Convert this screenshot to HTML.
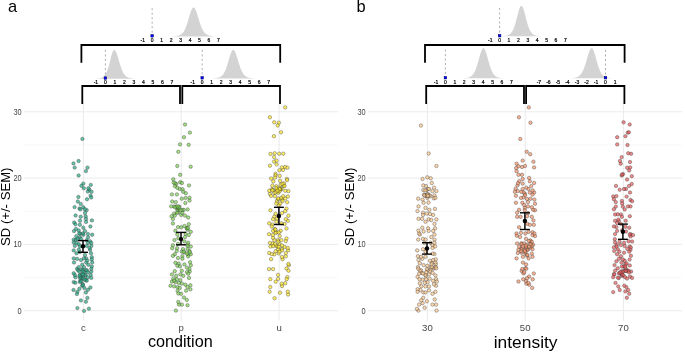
<!DOCTYPE html>
<html><head><meta charset="utf-8"><style>
html,body{margin:0;padding:0;background:#fff;}
svg{display:block;font-family:"Liberation Sans", sans-serif;will-change:transform;}
</style></head><body>
<svg width="685" height="352" viewBox="0 0 685 352">
<rect width="685" height="352" fill="#fff"/>
<line x1="24.0" x2="338.0" y1="277.55" y2="277.55" stroke="#f2f2f2" stroke-width="0.55"/>
<line x1="24.0" x2="338.0" y1="211.25" y2="211.25" stroke="#f2f2f2" stroke-width="0.55"/>
<line x1="24.0" x2="338.0" y1="144.95" y2="144.95" stroke="#f2f2f2" stroke-width="0.55"/>
<line x1="24.0" x2="338.0" y1="310.70" y2="310.70" stroke="#ebebeb" stroke-width="1.0"/>
<line x1="24.0" x2="338.0" y1="244.40" y2="244.40" stroke="#ebebeb" stroke-width="1.0"/>
<line x1="24.0" x2="338.0" y1="178.10" y2="178.10" stroke="#ebebeb" stroke-width="1.0"/>
<line x1="24.0" x2="338.0" y1="111.80" y2="111.80" stroke="#ebebeb" stroke-width="1.0"/>
<line x1="83.40" x2="83.40" y1="103" y2="320.7" stroke="#ebebeb" stroke-width="1.07"/>
<line x1="181.25" x2="181.25" y1="103" y2="320.7" stroke="#ebebeb" stroke-width="1.07"/>
<line x1="279.10" x2="279.10" y1="103" y2="320.7" stroke="#ebebeb" stroke-width="1.07"/>
<text transform="translate(21.70,313.65) scale(1,1.1)" text-anchor="end" font-size="7.4" fill="#444">0</text>
<text transform="translate(21.70,247.35) scale(1,1.1)" text-anchor="end" font-size="7.4" fill="#444">10</text>
<text transform="translate(21.70,181.05) scale(1,1.1)" text-anchor="end" font-size="7.4" fill="#444">20</text>
<text transform="translate(21.70,114.75) scale(1,1.1)" text-anchor="end" font-size="7.4" fill="#444">30</text>
<text x="83.40" y="330.8" text-anchor="middle" font-size="9.6" fill="#474747">c</text>
<text x="181.25" y="330.8" text-anchor="middle" font-size="9.6" fill="#474747">p</text>
<text x="279.10" y="330.8" text-anchor="middle" font-size="9.6" fill="#474747">u</text>
<text x="180.30" y="346.70" text-anchor="middle" font-size="16.2" fill="#000">condition</text>
<text transform="translate(9.70,206.75) rotate(-90)" text-anchor="middle" font-size="13.15" fill="#000">SD (+/- SEM)</text>
<text x="7.90" y="11.6" font-size="16.4" fill="#000">a</text>
<line x1="368.0" x2="682.0" y1="277.55" y2="277.55" stroke="#f2f2f2" stroke-width="0.55"/>
<line x1="368.0" x2="682.0" y1="211.25" y2="211.25" stroke="#f2f2f2" stroke-width="0.55"/>
<line x1="368.0" x2="682.0" y1="144.95" y2="144.95" stroke="#f2f2f2" stroke-width="0.55"/>
<line x1="368.0" x2="682.0" y1="310.70" y2="310.70" stroke="#ebebeb" stroke-width="1.0"/>
<line x1="368.0" x2="682.0" y1="244.40" y2="244.40" stroke="#ebebeb" stroke-width="1.0"/>
<line x1="368.0" x2="682.0" y1="178.10" y2="178.10" stroke="#ebebeb" stroke-width="1.0"/>
<line x1="368.0" x2="682.0" y1="111.80" y2="111.80" stroke="#ebebeb" stroke-width="1.0"/>
<line x1="427.40" x2="427.40" y1="103" y2="320.7" stroke="#ebebeb" stroke-width="1.07"/>
<line x1="525.20" x2="525.20" y1="103" y2="320.7" stroke="#ebebeb" stroke-width="1.07"/>
<line x1="623.40" x2="623.40" y1="103" y2="320.7" stroke="#ebebeb" stroke-width="1.07"/>
<text transform="translate(365.70,313.65) scale(1,1.1)" text-anchor="end" font-size="7.4" fill="#444">0</text>
<text transform="translate(365.70,247.35) scale(1,1.1)" text-anchor="end" font-size="7.4" fill="#444">10</text>
<text transform="translate(365.70,181.05) scale(1,1.1)" text-anchor="end" font-size="7.4" fill="#444">20</text>
<text transform="translate(365.70,114.75) scale(1,1.1)" text-anchor="end" font-size="7.4" fill="#444">30</text>
<text x="427.40" y="330.8" text-anchor="middle" font-size="9.6" fill="#474747">30</text>
<text x="525.20" y="330.8" text-anchor="middle" font-size="9.6" fill="#474747">50</text>
<text x="623.40" y="330.8" text-anchor="middle" font-size="9.6" fill="#474747">70</text>
<text x="525.65" y="347.60" text-anchor="middle" font-size="17.4" fill="#000">intensity</text>
<text transform="translate(353.70,206.75) rotate(-90)" text-anchor="middle" font-size="13.15" fill="#000">SD (+/- SEM)</text>
<text x="356.60" y="11.6" font-size="16.4" fill="#000">b</text>
<g fill="#22a884" fill-opacity="0.7" stroke="#333" stroke-opacity="0.75" stroke-width="0.5">
<circle cx="82.1" cy="277.9" r="1.72"/>
<circle cx="91.8" cy="257.2" r="1.72"/>
<circle cx="90.7" cy="275.0" r="1.72"/>
<circle cx="80.0" cy="220.7" r="1.72"/>
<circle cx="80.7" cy="216.7" r="1.72"/>
<circle cx="74.0" cy="262.5" r="1.72"/>
<circle cx="82.8" cy="284.1" r="1.72"/>
<circle cx="87.8" cy="191.5" r="1.72"/>
<circle cx="74.7" cy="167.6" r="1.72"/>
<circle cx="91.9" cy="220.4" r="1.72"/>
<circle cx="92.2" cy="234.7" r="1.72"/>
<circle cx="87.4" cy="297.9" r="1.72"/>
<circle cx="85.6" cy="275.6" r="1.72"/>
<circle cx="85.8" cy="280.1" r="1.72"/>
<circle cx="78.6" cy="175.5" r="1.72"/>
<circle cx="83.3" cy="207.2" r="1.72"/>
<circle cx="86.7" cy="240.2" r="1.72"/>
<circle cx="89.3" cy="189.6" r="1.72"/>
<circle cx="85.7" cy="216.4" r="1.72"/>
<circle cx="79.9" cy="275.0" r="1.72"/>
<circle cx="78.6" cy="161.0" r="1.72"/>
<circle cx="80.7" cy="203.9" r="1.72"/>
<circle cx="74.8" cy="245.9" r="1.72"/>
<circle cx="87.9" cy="277.5" r="1.72"/>
<circle cx="91.8" cy="259.5" r="1.72"/>
<circle cx="87.5" cy="167.6" r="1.72"/>
<circle cx="91.3" cy="277.9" r="1.72"/>
<circle cx="77.1" cy="268.8" r="1.72"/>
<circle cx="80.5" cy="280.7" r="1.72"/>
<circle cx="76.5" cy="253.3" r="1.72"/>
<circle cx="90.1" cy="241.3" r="1.72"/>
<circle cx="79.9" cy="281.9" r="1.72"/>
<circle cx="78.8" cy="230.5" r="1.72"/>
<circle cx="88.4" cy="264.8" r="1.72"/>
<circle cx="78.4" cy="197.0" r="1.72"/>
<circle cx="90.1" cy="249.8" r="1.72"/>
<circle cx="83.4" cy="234.8" r="1.72"/>
<circle cx="79.9" cy="224.8" r="1.72"/>
<circle cx="85.9" cy="292.5" r="1.72"/>
<circle cx="82.4" cy="138.9" r="1.72"/>
<circle cx="74.0" cy="231.1" r="1.72"/>
<circle cx="88.9" cy="308.7" r="1.72"/>
<circle cx="73.7" cy="239.6" r="1.72"/>
<circle cx="81.6" cy="269.4" r="1.72"/>
<circle cx="83.3" cy="278.2" r="1.72"/>
<circle cx="75.4" cy="277.3" r="1.72"/>
<circle cx="92.2" cy="262.5" r="1.72"/>
<circle cx="81.1" cy="281.4" r="1.72"/>
<circle cx="74.8" cy="275.0" r="1.72"/>
<circle cx="79.5" cy="208.4" r="1.72"/>
<circle cx="80.3" cy="209.4" r="1.72"/>
<circle cx="81.0" cy="260.1" r="1.72"/>
<circle cx="85.1" cy="274.9" r="1.72"/>
<circle cx="82.2" cy="285.8" r="1.72"/>
<circle cx="79.9" cy="252.1" r="1.72"/>
<circle cx="78.0" cy="270.2" r="1.72"/>
<circle cx="78.8" cy="267.1" r="1.72"/>
<circle cx="73.7" cy="242.5" r="1.72"/>
<circle cx="87.0" cy="199.2" r="1.72"/>
<circle cx="74.2" cy="222.5" r="1.72"/>
<circle cx="86.7" cy="210.1" r="1.72"/>
<circle cx="75.6" cy="215.5" r="1.72"/>
<circle cx="91.3" cy="245.9" r="1.72"/>
<circle cx="85.9" cy="301.7" r="1.72"/>
<circle cx="91.0" cy="253.3" r="1.72"/>
<circle cx="73.7" cy="250.4" r="1.72"/>
<circle cx="88.1" cy="237.3" r="1.72"/>
<circle cx="86.1" cy="219.0" r="1.72"/>
<circle cx="80.6" cy="277.0" r="1.72"/>
<circle cx="82.9" cy="269.7" r="1.72"/>
<circle cx="85.1" cy="213.0" r="1.72"/>
<circle cx="83.9" cy="267.1" r="1.72"/>
<circle cx="83.9" cy="272.2" r="1.72"/>
<circle cx="91.5" cy="191.8" r="1.72"/>
<circle cx="73.7" cy="282.1" r="1.72"/>
<circle cx="82.8" cy="233.4" r="1.72"/>
<circle cx="87.9" cy="243.0" r="1.72"/>
<circle cx="73.5" cy="163.4" r="1.72"/>
<circle cx="86.7" cy="280.7" r="1.72"/>
<circle cx="79.9" cy="237.3" r="1.72"/>
<circle cx="77.4" cy="291.8" r="1.72"/>
<circle cx="76.9" cy="294.0" r="1.72"/>
<circle cx="82.2" cy="274.5" r="1.72"/>
<circle cx="86.2" cy="262.5" r="1.72"/>
<circle cx="83.3" cy="227.7" r="1.72"/>
<circle cx="83.3" cy="183.6" r="1.72"/>
<circle cx="86.2" cy="269.9" r="1.72"/>
<circle cx="79.9" cy="277.9" r="1.72"/>
<circle cx="91.3" cy="243.0" r="1.72"/>
<circle cx="86.1" cy="221.9" r="1.72"/>
<circle cx="88.4" cy="188.3" r="1.72"/>
<circle cx="81.4" cy="185.8" r="1.72"/>
<circle cx="78.8" cy="244.2" r="1.72"/>
<circle cx="77.1" cy="258.9" r="1.72"/>
<circle cx="87.9" cy="289.8" r="1.72"/>
<circle cx="79.5" cy="275.9" r="1.72"/>
<circle cx="85.0" cy="231.1" r="1.72"/>
<circle cx="91.8" cy="266.5" r="1.72"/>
<circle cx="80.1" cy="233.8" r="1.72"/>
<circle cx="75.9" cy="229.0" r="1.72"/>
<circle cx="80.9" cy="300.4" r="1.72"/>
<circle cx="85.0" cy="255.0" r="1.72"/>
<circle cx="73.7" cy="273.3" r="1.72"/>
<circle cx="73.5" cy="290.0" r="1.72"/>
<circle cx="82.2" cy="264.8" r="1.72"/>
<circle cx="85.9" cy="171.1" r="1.72"/>
<circle cx="90.4" cy="287.5" r="1.72"/>
<circle cx="87.0" cy="270.6" r="1.72"/>
<circle cx="77.8" cy="201.5" r="1.72"/>
<circle cx="82.9" cy="285.2" r="1.72"/>
<circle cx="91.3" cy="271.6" r="1.72"/>
<circle cx="74.6" cy="207.1" r="1.72"/>
<circle cx="81.0" cy="239.0" r="1.72"/>
<circle cx="89.6" cy="248.1" r="1.72"/>
<circle cx="82.8" cy="271.6" r="1.72"/>
<circle cx="90.8" cy="184.9" r="1.72"/>
<circle cx="86.2" cy="258.4" r="1.72"/>
<circle cx="75.4" cy="224.3" r="1.72"/>
<circle cx="76.5" cy="243.0" r="1.72"/>
<circle cx="79.3" cy="271.6" r="1.72"/>
<circle cx="79.3" cy="233.4" r="1.72"/>
<circle cx="75.4" cy="282.8" r="1.72"/>
<circle cx="84.1" cy="310.9" r="1.72"/>
<circle cx="78.8" cy="249.8" r="1.72"/>
<circle cx="90.4" cy="226.5" r="1.72"/>
<circle cx="73.7" cy="258.4" r="1.72"/>
<circle cx="83.8" cy="188.3" r="1.72"/>
<circle cx="79.9" cy="246.4" r="1.72"/>
<circle cx="87.9" cy="233.9" r="1.72"/>
<circle cx="86.7" cy="245.9" r="1.72"/>
<circle cx="83.9" cy="258.4" r="1.72"/>
<circle cx="91.3" cy="268.8" r="1.72"/>
<circle cx="79.4" cy="288.8" r="1.72"/>
<circle cx="84.4" cy="288.0" r="1.72"/>
<circle cx="87.3" cy="260.6" r="1.72"/>
<circle cx="84.5" cy="279.6" r="1.72"/>
<circle cx="76.0" cy="239.8" r="1.72"/>
<circle cx="77.4" cy="308.1" r="1.72"/>
<circle cx="77.6" cy="239.0" r="1.72"/>
<circle cx="90.6" cy="195.6" r="1.72"/>
<circle cx="91.2" cy="197.5" r="1.72"/>
<circle cx="83.0" cy="274.4" r="1.72"/>
<circle cx="84.8" cy="209.2" r="1.72"/>
<circle cx="87.9" cy="272.5" r="1.72"/>
<circle cx="76.3" cy="236.2" r="1.72"/>
</g>
<g fill="#7ad151" fill-opacity="0.7" stroke="#333" stroke-opacity="0.75" stroke-width="0.5">
<circle cx="181.8" cy="251.6" r="1.72"/>
<circle cx="187.7" cy="244.7" r="1.72"/>
<circle cx="190.8" cy="246.5" r="1.72"/>
<circle cx="189.7" cy="271.5" r="1.72"/>
<circle cx="190.7" cy="166.7" r="1.72"/>
<circle cx="177.3" cy="166.0" r="1.72"/>
<circle cx="182.4" cy="256.1" r="1.72"/>
<circle cx="174.1" cy="286.4" r="1.72"/>
<circle cx="181.1" cy="293.8" r="1.72"/>
<circle cx="190.8" cy="265.3" r="1.72"/>
<circle cx="172.2" cy="201.5" r="1.72"/>
<circle cx="181.2" cy="214.9" r="1.72"/>
<circle cx="187.6" cy="229.8" r="1.72"/>
<circle cx="189.0" cy="185.4" r="1.72"/>
<circle cx="190.4" cy="289.3" r="1.72"/>
<circle cx="187.5" cy="287.1" r="1.72"/>
<circle cx="183.3" cy="275.8" r="1.72"/>
<circle cx="183.7" cy="209.8" r="1.72"/>
<circle cx="172.9" cy="245.3" r="1.72"/>
<circle cx="183.1" cy="249.1" r="1.72"/>
<circle cx="174.1" cy="206.4" r="1.72"/>
<circle cx="187.6" cy="249.1" r="1.72"/>
<circle cx="178.0" cy="212.7" r="1.72"/>
<circle cx="170.5" cy="285.7" r="1.72"/>
<circle cx="188.7" cy="144.8" r="1.72"/>
<circle cx="179.9" cy="266.3" r="1.72"/>
<circle cx="171.2" cy="206.4" r="1.72"/>
<circle cx="176.2" cy="275.8" r="1.72"/>
<circle cx="177.1" cy="248.2" r="1.72"/>
<circle cx="178.3" cy="151.8" r="1.72"/>
<circle cx="177.6" cy="290.7" r="1.72"/>
<circle cx="179.0" cy="282.9" r="1.72"/>
<circle cx="177.6" cy="287.1" r="1.72"/>
<circle cx="174.1" cy="213.6" r="1.72"/>
<circle cx="182.4" cy="213.0" r="1.72"/>
<circle cx="173.3" cy="179.3" r="1.72"/>
<circle cx="172.9" cy="223.5" r="1.72"/>
<circle cx="187.5" cy="305.2" r="1.72"/>
<circle cx="175.4" cy="230.8" r="1.72"/>
<circle cx="185.4" cy="284.7" r="1.72"/>
<circle cx="186.1" cy="290.7" r="1.72"/>
<circle cx="181.8" cy="270.8" r="1.72"/>
<circle cx="171.9" cy="281.5" r="1.72"/>
<circle cx="184.4" cy="264.4" r="1.72"/>
<circle cx="189.5" cy="251.0" r="1.72"/>
<circle cx="180.2" cy="174.8" r="1.72"/>
<circle cx="178.6" cy="209.8" r="1.72"/>
<circle cx="177.3" cy="209.8" r="1.72"/>
<circle cx="177.3" cy="234.4" r="1.72"/>
<circle cx="180.4" cy="274.4" r="1.72"/>
<circle cx="187.6" cy="209.4" r="1.72"/>
<circle cx="188.8" cy="224.2" r="1.72"/>
<circle cx="177.3" cy="208.1" r="1.72"/>
<circle cx="176.3" cy="206.6" r="1.72"/>
<circle cx="176.7" cy="251.0" r="1.72"/>
<circle cx="188.1" cy="254.5" r="1.72"/>
<circle cx="172.2" cy="248.2" r="1.72"/>
<circle cx="186.9" cy="228.0" r="1.72"/>
<circle cx="178.0" cy="244.0" r="1.72"/>
<circle cx="184.4" cy="241.4" r="1.72"/>
<circle cx="186.9" cy="228.3" r="1.72"/>
<circle cx="180.2" cy="182.2" r="1.72"/>
<circle cx="188.2" cy="242.7" r="1.72"/>
<circle cx="190.1" cy="262.2" r="1.72"/>
<circle cx="179.7" cy="189.0" r="1.72"/>
<circle cx="175.5" cy="282.2" r="1.72"/>
<circle cx="189.9" cy="132.6" r="1.72"/>
<circle cx="184.0" cy="137.2" r="1.72"/>
<circle cx="174.8" cy="254.2" r="1.72"/>
<circle cx="184.4" cy="252.3" r="1.72"/>
<circle cx="186.9" cy="272.1" r="1.72"/>
<circle cx="180.4" cy="280.1" r="1.72"/>
<circle cx="182.6" cy="189.3" r="1.72"/>
<circle cx="178.6" cy="263.5" r="1.72"/>
<circle cx="183.3" cy="191.8" r="1.72"/>
<circle cx="186.8" cy="299.9" r="1.72"/>
<circle cx="177.3" cy="187.8" r="1.72"/>
<circle cx="171.9" cy="194.4" r="1.72"/>
<circle cx="185.8" cy="193.2" r="1.72"/>
<circle cx="179.0" cy="304.6" r="1.72"/>
<circle cx="175.1" cy="207.3" r="1.72"/>
<circle cx="185.0" cy="237.0" r="1.72"/>
<circle cx="181.2" cy="227.3" r="1.72"/>
<circle cx="176.2" cy="184.0" r="1.72"/>
<circle cx="182.1" cy="210.0" r="1.72"/>
<circle cx="188.2" cy="256.4" r="1.72"/>
<circle cx="190.8" cy="231.8" r="1.72"/>
<circle cx="176.9" cy="194.4" r="1.72"/>
<circle cx="171.9" cy="274.4" r="1.72"/>
<circle cx="176.9" cy="279.3" r="1.72"/>
<circle cx="188.1" cy="227.9" r="1.72"/>
<circle cx="174.8" cy="186.1" r="1.72"/>
<circle cx="175.1" cy="183.2" r="1.72"/>
<circle cx="181.9" cy="283.6" r="1.72"/>
<circle cx="178.0" cy="258.0" r="1.72"/>
<circle cx="190.4" cy="285.3" r="1.72"/>
<circle cx="182.4" cy="258.7" r="1.72"/>
<circle cx="184.0" cy="297.5" r="1.72"/>
<circle cx="185.0" cy="124.5" r="1.72"/>
<circle cx="190.8" cy="254.2" r="1.72"/>
<circle cx="172.9" cy="255.9" r="1.72"/>
<circle cx="183.7" cy="251.7" r="1.72"/>
<circle cx="189.5" cy="200.5" r="1.72"/>
<circle cx="174.8" cy="215.6" r="1.72"/>
<circle cx="189.5" cy="197.7" r="1.72"/>
<circle cx="178.3" cy="293.5" r="1.72"/>
<circle cx="185.3" cy="203.0" r="1.72"/>
<circle cx="181.9" cy="183.0" r="1.72"/>
<circle cx="175.8" cy="202.1" r="1.72"/>
<circle cx="173.6" cy="182.6" r="1.72"/>
<circle cx="172.9" cy="219.1" r="1.72"/>
<circle cx="179.7" cy="287.9" r="1.72"/>
<circle cx="189.5" cy="268.9" r="1.72"/>
<circle cx="173.3" cy="278.6" r="1.72"/>
<circle cx="174.2" cy="280.7" r="1.72"/>
<circle cx="185.0" cy="215.6" r="1.72"/>
<circle cx="186.9" cy="253.6" r="1.72"/>
<circle cx="177.3" cy="265.7" r="1.72"/>
<circle cx="185.6" cy="197.9" r="1.72"/>
<circle cx="179.3" cy="206.6" r="1.72"/>
<circle cx="174.5" cy="240.1" r="1.72"/>
<circle cx="180.5" cy="210.2" r="1.72"/>
<circle cx="188.2" cy="273.7" r="1.72"/>
<circle cx="178.3" cy="302.0" r="1.72"/>
<circle cx="180.0" cy="144.4" r="1.72"/>
<circle cx="177.0" cy="212.6" r="1.72"/>
<circle cx="188.2" cy="217.5" r="1.72"/>
<circle cx="181.9" cy="304.6" r="1.72"/>
<circle cx="184.4" cy="226.0" r="1.72"/>
<circle cx="188.8" cy="235.0" r="1.72"/>
<circle cx="189.0" cy="277.9" r="1.72"/>
<circle cx="178.4" cy="238.2" r="1.72"/>
<circle cx="178.0" cy="227.1" r="1.72"/>
<circle cx="178.9" cy="207.5" r="1.72"/>
<circle cx="175.4" cy="262.8" r="1.72"/>
<circle cx="175.9" cy="310.6" r="1.72"/>
<circle cx="177.7" cy="206.4" r="1.72"/>
<circle cx="185.6" cy="233.8" r="1.72"/>
<circle cx="186.9" cy="267.6" r="1.72"/>
<circle cx="171.6" cy="216.2" r="1.72"/>
<circle cx="174.8" cy="271.2" r="1.72"/>
<circle cx="189.8" cy="252.2" r="1.72"/>
<circle cx="187.6" cy="245.9" r="1.72"/>
<circle cx="181.8" cy="198.7" r="1.72"/>
</g>
<g fill="#fde725" fill-opacity="0.7" stroke="#333" stroke-opacity="0.75" stroke-width="0.5">
<circle cx="274.3" cy="240.1" r="1.72"/>
<circle cx="278.9" cy="122.7" r="1.72"/>
<circle cx="287.8" cy="220.8" r="1.72"/>
<circle cx="275.6" cy="173.8" r="1.72"/>
<circle cx="277.9" cy="240.0" r="1.72"/>
<circle cx="276.4" cy="232.3" r="1.72"/>
<circle cx="271.8" cy="189.1" r="1.72"/>
<circle cx="276.9" cy="201.0" r="1.72"/>
<circle cx="283.9" cy="186.0" r="1.72"/>
<circle cx="284.6" cy="247.0" r="1.72"/>
<circle cx="281.0" cy="189.5" r="1.72"/>
<circle cx="278.3" cy="199.3" r="1.72"/>
<circle cx="277.4" cy="246.7" r="1.72"/>
<circle cx="278.2" cy="192.7" r="1.72"/>
<circle cx="286.9" cy="178.9" r="1.72"/>
<circle cx="279.7" cy="235.9" r="1.72"/>
<circle cx="274.3" cy="192.9" r="1.72"/>
<circle cx="269.9" cy="194.0" r="1.72"/>
<circle cx="275.0" cy="229.1" r="1.72"/>
<circle cx="288.4" cy="191.1" r="1.72"/>
<circle cx="275.6" cy="251.2" r="1.72"/>
<circle cx="279.4" cy="243.9" r="1.72"/>
<circle cx="282.0" cy="286.0" r="1.72"/>
<circle cx="275.7" cy="281.7" r="1.72"/>
<circle cx="275.6" cy="213.8" r="1.72"/>
<circle cx="269.2" cy="190.8" r="1.72"/>
<circle cx="288.8" cy="265.3" r="1.72"/>
<circle cx="281.7" cy="283.7" r="1.72"/>
<circle cx="269.9" cy="242.9" r="1.72"/>
<circle cx="281.4" cy="188.5" r="1.72"/>
<circle cx="275.0" cy="196.2" r="1.72"/>
<circle cx="286.5" cy="208.6" r="1.72"/>
<circle cx="278.8" cy="205.2" r="1.72"/>
<circle cx="282.6" cy="259.2" r="1.72"/>
<circle cx="280.7" cy="184.6" r="1.72"/>
<circle cx="287.1" cy="180.1" r="1.72"/>
<circle cx="281.8" cy="199.5" r="1.72"/>
<circle cx="280.0" cy="189.0" r="1.72"/>
<circle cx="286.5" cy="228.5" r="1.72"/>
<circle cx="276.9" cy="218.5" r="1.72"/>
<circle cx="278.2" cy="198.4" r="1.72"/>
<circle cx="274.1" cy="161.6" r="1.72"/>
<circle cx="272.8" cy="243.5" r="1.72"/>
<circle cx="272.4" cy="224.6" r="1.72"/>
<circle cx="280.0" cy="188.9" r="1.72"/>
<circle cx="285.2" cy="107.4" r="1.72"/>
<circle cx="288.1" cy="294.5" r="1.72"/>
<circle cx="276.3" cy="221.8" r="1.72"/>
<circle cx="275.6" cy="232.9" r="1.72"/>
<circle cx="275.4" cy="175.4" r="1.72"/>
<circle cx="285.2" cy="167.0" r="1.72"/>
<circle cx="277.0" cy="189.5" r="1.72"/>
<circle cx="284.6" cy="224.0" r="1.72"/>
<circle cx="272.4" cy="185.6" r="1.72"/>
<circle cx="280.7" cy="230.8" r="1.72"/>
<circle cx="287.4" cy="167.7" r="1.72"/>
<circle cx="286.5" cy="268.5" r="1.72"/>
<circle cx="271.1" cy="195.9" r="1.72"/>
<circle cx="274.3" cy="216.7" r="1.72"/>
<circle cx="270.5" cy="210.3" r="1.72"/>
<circle cx="273.1" cy="190.1" r="1.72"/>
<circle cx="275.8" cy="192.3" r="1.72"/>
<circle cx="280.1" cy="203.5" r="1.72"/>
<circle cx="275.0" cy="177.6" r="1.72"/>
<circle cx="285.8" cy="241.0" r="1.72"/>
<circle cx="273.9" cy="136.2" r="1.72"/>
<circle cx="273.1" cy="230.8" r="1.72"/>
<circle cx="283.0" cy="169.9" r="1.72"/>
<circle cx="276.6" cy="164.4" r="1.72"/>
<circle cx="283.9" cy="183.3" r="1.72"/>
<circle cx="288.4" cy="215.7" r="1.72"/>
<circle cx="270.3" cy="279.2" r="1.72"/>
<circle cx="274.3" cy="254.4" r="1.72"/>
<circle cx="279.6" cy="191.3" r="1.72"/>
<circle cx="281.4" cy="197.8" r="1.72"/>
<circle cx="285.8" cy="219.2" r="1.72"/>
<circle cx="285.2" cy="190.8" r="1.72"/>
<circle cx="269.9" cy="117.3" r="1.72"/>
<circle cx="276.3" cy="203.5" r="1.72"/>
<circle cx="269.9" cy="165.7" r="1.72"/>
<circle cx="269.0" cy="234.2" r="1.72"/>
<circle cx="274.7" cy="153.3" r="1.72"/>
<circle cx="287.4" cy="277.1" r="1.72"/>
<circle cx="271.8" cy="226.5" r="1.72"/>
<circle cx="273.1" cy="269.1" r="1.72"/>
<circle cx="282.0" cy="249.0" r="1.72"/>
<circle cx="288.5" cy="270.7" r="1.72"/>
<circle cx="276.4" cy="186.3" r="1.72"/>
<circle cx="274.2" cy="122.3" r="1.72"/>
<circle cx="285.8" cy="253.1" r="1.72"/>
<circle cx="279.2" cy="153.7" r="1.72"/>
<circle cx="269.2" cy="252.9" r="1.72"/>
<circle cx="285.8" cy="256.3" r="1.72"/>
<circle cx="273.1" cy="237.8" r="1.72"/>
<circle cx="270.5" cy="153.9" r="1.72"/>
<circle cx="279.4" cy="188.2" r="1.72"/>
<circle cx="274.1" cy="157.1" r="1.72"/>
<circle cx="282.4" cy="184.0" r="1.72"/>
<circle cx="286.5" cy="238.4" r="1.72"/>
<circle cx="285.2" cy="211.2" r="1.72"/>
<circle cx="269.2" cy="223.3" r="1.72"/>
<circle cx="282.0" cy="213.1" r="1.72"/>
<circle cx="273.1" cy="219.2" r="1.72"/>
<circle cx="279.4" cy="170.3" r="1.72"/>
<circle cx="287.8" cy="196.5" r="1.72"/>
<circle cx="276.2" cy="245.7" r="1.72"/>
<circle cx="281.9" cy="250.5" r="1.72"/>
<circle cx="280.0" cy="292.7" r="1.72"/>
<circle cx="288.1" cy="250.3" r="1.72"/>
<circle cx="285.2" cy="198.4" r="1.72"/>
<circle cx="278.2" cy="249.3" r="1.72"/>
<circle cx="286.7" cy="279.2" r="1.72"/>
<circle cx="275.0" cy="244.2" r="1.72"/>
<circle cx="288.4" cy="264.0" r="1.72"/>
<circle cx="274.6" cy="298.3" r="1.72"/>
<circle cx="270.5" cy="246.5" r="1.72"/>
<circle cx="282.0" cy="257.0" r="1.72"/>
<circle cx="281.0" cy="132.3" r="1.72"/>
<circle cx="276.3" cy="188.2" r="1.72"/>
<circle cx="284.6" cy="185.9" r="1.72"/>
<circle cx="283.3" cy="153.7" r="1.72"/>
<circle cx="276.6" cy="160.6" r="1.72"/>
<circle cx="270.3" cy="287.0" r="1.72"/>
<circle cx="280.1" cy="180.8" r="1.72"/>
<circle cx="273.3" cy="246.1" r="1.72"/>
<circle cx="269.6" cy="291.7" r="1.72"/>
<circle cx="278.1" cy="278.9" r="1.72"/>
<circle cx="273.3" cy="181.4" r="1.72"/>
<circle cx="282.0" cy="167.4" r="1.72"/>
<circle cx="281.4" cy="223.3" r="1.72"/>
<circle cx="278.8" cy="232.4" r="1.72"/>
<circle cx="282.0" cy="245.4" r="1.72"/>
<circle cx="287.8" cy="291.7" r="1.72"/>
<circle cx="278.8" cy="253.4" r="1.72"/>
<circle cx="271.1" cy="259.2" r="1.72"/>
<circle cx="279.7" cy="189.2" r="1.72"/>
<circle cx="277.7" cy="125.5" r="1.72"/>
<circle cx="278.2" cy="241.6" r="1.72"/>
<circle cx="279.7" cy="175.9" r="1.72"/>
<circle cx="275.4" cy="229.5" r="1.72"/>
<circle cx="281.4" cy="240.1" r="1.72"/>
<circle cx="283.3" cy="196.2" r="1.72"/>
<circle cx="279.4" cy="251.6" r="1.72"/>
<circle cx="272.8" cy="235.0" r="1.72"/>
<circle cx="287.8" cy="248.0" r="1.72"/>
<circle cx="285.2" cy="283.2" r="1.72"/>
<circle cx="271.8" cy="254.1" r="1.72"/>
<circle cx="272.3" cy="190.4" r="1.72"/>
<circle cx="287.1" cy="202.3" r="1.72"/>
<circle cx="277.5" cy="190.8" r="1.72"/>
<circle cx="278.1" cy="274.9" r="1.72"/>
<circle cx="278.8" cy="246.7" r="1.72"/>
<circle cx="271.1" cy="178.5" r="1.72"/>
<circle cx="282.6" cy="201.0" r="1.72"/>
<circle cx="269.0" cy="269.1" r="1.72"/>
</g>
<g fill="#fcc88c" fill-opacity="0.7" stroke="#333" stroke-opacity="0.75" stroke-width="0.5">
<circle cx="425.1" cy="195.3" r="1.72"/>
<circle cx="420.5" cy="290.0" r="1.72"/>
<circle cx="429.0" cy="286.4" r="1.72"/>
<circle cx="425.8" cy="276.1" r="1.72"/>
<circle cx="428.7" cy="219.4" r="1.72"/>
<circle cx="434.5" cy="195.4" r="1.72"/>
<circle cx="436.4" cy="166.0" r="1.72"/>
<circle cx="422.6" cy="199.6" r="1.72"/>
<circle cx="430.6" cy="269.6" r="1.72"/>
<circle cx="428.1" cy="228.3" r="1.72"/>
<circle cx="429.0" cy="274.4" r="1.72"/>
<circle cx="431.8" cy="183.0" r="1.72"/>
<circle cx="422.1" cy="218.8" r="1.72"/>
<circle cx="417.9" cy="256.2" r="1.72"/>
<circle cx="418.2" cy="239.6" r="1.72"/>
<circle cx="434.5" cy="234.5" r="1.72"/>
<circle cx="423.0" cy="238.9" r="1.72"/>
<circle cx="422.6" cy="179.0" r="1.72"/>
<circle cx="427.5" cy="270.1" r="1.72"/>
<circle cx="428.7" cy="230.9" r="1.72"/>
<circle cx="417.6" cy="289.3" r="1.72"/>
<circle cx="421.9" cy="273.0" r="1.72"/>
<circle cx="435.1" cy="228.3" r="1.72"/>
<circle cx="434.5" cy="223.9" r="1.72"/>
<circle cx="425.5" cy="256.8" r="1.72"/>
<circle cx="418.5" cy="260.0" r="1.72"/>
<circle cx="426.6" cy="190.2" r="1.72"/>
<circle cx="417.6" cy="291.8" r="1.72"/>
<circle cx="427.6" cy="282.2" r="1.72"/>
<circle cx="422.3" cy="227.7" r="1.72"/>
<circle cx="433.6" cy="268.5" r="1.72"/>
<circle cx="425.4" cy="274.8" r="1.72"/>
<circle cx="425.5" cy="221.7" r="1.72"/>
<circle cx="434.9" cy="208.9" r="1.72"/>
<circle cx="436.4" cy="191.1" r="1.72"/>
<circle cx="431.3" cy="220.0" r="1.72"/>
<circle cx="434.5" cy="267.7" r="1.72"/>
<circle cx="433.2" cy="230.9" r="1.72"/>
<circle cx="419.8" cy="234.5" r="1.72"/>
<circle cx="426.8" cy="269.0" r="1.72"/>
<circle cx="423.3" cy="292.4" r="1.72"/>
<circle cx="427.4" cy="197.9" r="1.72"/>
<circle cx="428.0" cy="193.9" r="1.72"/>
<circle cx="436.1" cy="279.3" r="1.72"/>
<circle cx="417.6" cy="276.8" r="1.72"/>
<circle cx="433.2" cy="260.0" r="1.72"/>
<circle cx="434.5" cy="254.0" r="1.72"/>
<circle cx="431.3" cy="237.0" r="1.72"/>
<circle cx="423.6" cy="231.5" r="1.72"/>
<circle cx="432.5" cy="191.1" r="1.72"/>
<circle cx="433.8" cy="198.3" r="1.72"/>
<circle cx="435.8" cy="264.2" r="1.72"/>
<circle cx="418.5" cy="206.4" r="1.72"/>
<circle cx="435.4" cy="275.4" r="1.72"/>
<circle cx="419.1" cy="233.5" r="1.72"/>
<circle cx="419.1" cy="304.6" r="1.72"/>
<circle cx="432.5" cy="293.8" r="1.72"/>
<circle cx="430.6" cy="267.1" r="1.72"/>
<circle cx="423.0" cy="273.5" r="1.72"/>
<circle cx="433.2" cy="280.8" r="1.72"/>
<circle cx="417.2" cy="250.4" r="1.72"/>
<circle cx="418.3" cy="310.6" r="1.72"/>
<circle cx="430.6" cy="196.1" r="1.72"/>
<circle cx="421.1" cy="270.3" r="1.72"/>
<circle cx="424.0" cy="194.6" r="1.72"/>
<circle cx="432.6" cy="253.6" r="1.72"/>
<circle cx="436.1" cy="304.6" r="1.72"/>
<circle cx="434.5" cy="239.6" r="1.72"/>
<circle cx="429.7" cy="278.6" r="1.72"/>
<circle cx="423.0" cy="249.2" r="1.72"/>
<circle cx="429.4" cy="195.4" r="1.72"/>
<circle cx="422.3" cy="258.8" r="1.72"/>
<circle cx="428.5" cy="202.5" r="1.72"/>
<circle cx="425.1" cy="195.6" r="1.72"/>
<circle cx="436.5" cy="310.6" r="1.72"/>
<circle cx="431.9" cy="267.1" r="1.72"/>
<circle cx="430.4" cy="271.5" r="1.72"/>
<circle cx="436.1" cy="285.7" r="1.72"/>
<circle cx="428.7" cy="153.5" r="1.72"/>
<circle cx="424.3" cy="195.4" r="1.72"/>
<circle cx="427.4" cy="196.3" r="1.72"/>
<circle cx="419.8" cy="263.2" r="1.72"/>
<circle cx="435.4" cy="262.4" r="1.72"/>
<circle cx="424.7" cy="282.9" r="1.72"/>
<circle cx="436.4" cy="219.4" r="1.72"/>
<circle cx="427.4" cy="194.5" r="1.72"/>
<circle cx="430.0" cy="260.7" r="1.72"/>
<circle cx="426.1" cy="279.3" r="1.72"/>
<circle cx="435.4" cy="197.9" r="1.72"/>
<circle cx="417.9" cy="267.1" r="1.72"/>
<circle cx="431.9" cy="263.2" r="1.72"/>
<circle cx="435.8" cy="259.4" r="1.72"/>
<circle cx="430.7" cy="178.3" r="1.72"/>
<circle cx="433.2" cy="214.9" r="1.72"/>
<circle cx="435.8" cy="267.1" r="1.72"/>
<circle cx="430.6" cy="242.8" r="1.72"/>
<circle cx="436.8" cy="281.5" r="1.72"/>
<circle cx="418.5" cy="230.6" r="1.72"/>
<circle cx="432.6" cy="245.3" r="1.72"/>
<circle cx="434.7" cy="299.5" r="1.72"/>
<circle cx="423.6" cy="265.1" r="1.72"/>
<circle cx="434.0" cy="284.3" r="1.72"/>
<circle cx="425.5" cy="207.9" r="1.72"/>
<circle cx="419.7" cy="270.5" r="1.72"/>
<circle cx="424.7" cy="307.7" r="1.72"/>
<circle cx="432.6" cy="272.8" r="1.72"/>
<circle cx="429.4" cy="209.8" r="1.72"/>
<circle cx="423.0" cy="212.7" r="1.72"/>
<circle cx="434.0" cy="187.6" r="1.72"/>
<circle cx="422.6" cy="279.6" r="1.72"/>
<circle cx="417.5" cy="211.1" r="1.72"/>
<circle cx="424.3" cy="242.8" r="1.72"/>
<circle cx="418.3" cy="268.7" r="1.72"/>
<circle cx="425.4" cy="292.4" r="1.72"/>
<circle cx="435.4" cy="291.8" r="1.72"/>
<circle cx="426.9" cy="301.3" r="1.72"/>
<circle cx="427.4" cy="265.8" r="1.72"/>
<circle cx="427.0" cy="195.5" r="1.72"/>
<circle cx="432.6" cy="247.9" r="1.72"/>
<circle cx="421.2" cy="286.2" r="1.72"/>
<circle cx="435.1" cy="246.4" r="1.72"/>
<circle cx="429.0" cy="290.4" r="1.72"/>
<circle cx="436.1" cy="268.3" r="1.72"/>
<circle cx="425.9" cy="186.1" r="1.72"/>
<circle cx="419.5" cy="279.3" r="1.72"/>
<circle cx="428.1" cy="195.9" r="1.72"/>
<circle cx="420.9" cy="125.5" r="1.72"/>
<circle cx="425.5" cy="251.7" r="1.72"/>
<circle cx="423.3" cy="297.8" r="1.72"/>
<circle cx="434.5" cy="242.8" r="1.72"/>
<circle cx="431.5" cy="264.3" r="1.72"/>
<circle cx="428.0" cy="189.0" r="1.72"/>
<circle cx="425.4" cy="286.4" r="1.72"/>
<circle cx="419.1" cy="273.7" r="1.72"/>
<circle cx="423.6" cy="202.8" r="1.72"/>
<circle cx="426.2" cy="272.2" r="1.72"/>
<circle cx="426.8" cy="213.6" r="1.72"/>
<circle cx="423.3" cy="190.1" r="1.72"/>
<circle cx="423.3" cy="185.4" r="1.72"/>
<circle cx="418.2" cy="198.7" r="1.72"/>
<circle cx="425.5" cy="239.6" r="1.72"/>
<circle cx="427.3" cy="177.3" r="1.72"/>
<circle cx="429.1" cy="189.0" r="1.72"/>
<circle cx="416.9" cy="308.9" r="1.72"/>
<circle cx="430.0" cy="214.0" r="1.72"/>
<circle cx="422.6" cy="303.2" r="1.72"/>
<circle cx="419.8" cy="283.3" r="1.72"/>
<circle cx="432.5" cy="304.6" r="1.72"/>
<circle cx="425.2" cy="190.4" r="1.72"/>
<circle cx="423.0" cy="214.9" r="1.72"/>
<circle cx="421.1" cy="256.8" r="1.72"/>
<circle cx="418.5" cy="218.8" r="1.72"/>
<circle cx="421.2" cy="300.3" r="1.72"/>
</g>
<g fill="#f7946a" fill-opacity="0.7" stroke="#333" stroke-opacity="0.75" stroke-width="0.5">
<circle cx="532.2" cy="287.9" r="1.72"/>
<circle cx="522.0" cy="167.0" r="1.72"/>
<circle cx="521.5" cy="247.8" r="1.72"/>
<circle cx="525.4" cy="253.6" r="1.72"/>
<circle cx="518.9" cy="117.3" r="1.72"/>
<circle cx="522.9" cy="262.6" r="1.72"/>
<circle cx="530.5" cy="243.0" r="1.72"/>
<circle cx="517.1" cy="243.4" r="1.72"/>
<circle cx="530.4" cy="240.4" r="1.72"/>
<circle cx="528.0" cy="249.8" r="1.72"/>
<circle cx="521.6" cy="249.2" r="1.72"/>
<circle cx="534.1" cy="192.5" r="1.72"/>
<circle cx="526.0" cy="248.1" r="1.72"/>
<circle cx="527.2" cy="255.7" r="1.72"/>
<circle cx="528.0" cy="213.0" r="1.72"/>
<circle cx="517.8" cy="253.0" r="1.72"/>
<circle cx="516.1" cy="168.0" r="1.72"/>
<circle cx="523.5" cy="197.4" r="1.72"/>
<circle cx="522.7" cy="179.0" r="1.72"/>
<circle cx="517.1" cy="216.8" r="1.72"/>
<circle cx="526.0" cy="281.0" r="1.72"/>
<circle cx="521.6" cy="270.9" r="1.72"/>
<circle cx="534.1" cy="183.0" r="1.72"/>
<circle cx="520.3" cy="139.0" r="1.72"/>
<circle cx="529.1" cy="276.5" r="1.72"/>
<circle cx="527.4" cy="254.9" r="1.72"/>
<circle cx="534.1" cy="167.4" r="1.72"/>
<circle cx="535.0" cy="210.2" r="1.72"/>
<circle cx="531.8" cy="241.8" r="1.72"/>
<circle cx="521.4" cy="243.3" r="1.72"/>
<circle cx="518.5" cy="281.5" r="1.72"/>
<circle cx="530.7" cy="247.7" r="1.72"/>
<circle cx="519.2" cy="181.2" r="1.72"/>
<circle cx="527.0" cy="249.7" r="1.72"/>
<circle cx="520.6" cy="216.8" r="1.72"/>
<circle cx="516.6" cy="163.7" r="1.72"/>
<circle cx="519.1" cy="209.8" r="1.72"/>
<circle cx="531.8" cy="216.8" r="1.72"/>
<circle cx="529.0" cy="240.9" r="1.72"/>
<circle cx="530.2" cy="154.2" r="1.72"/>
<circle cx="521.0" cy="232.8" r="1.72"/>
<circle cx="535.0" cy="236.1" r="1.72"/>
<circle cx="529.1" cy="284.7" r="1.72"/>
<circle cx="534.4" cy="199.6" r="1.72"/>
<circle cx="532.7" cy="279.3" r="1.72"/>
<circle cx="516.6" cy="171.2" r="1.72"/>
<circle cx="522.7" cy="160.6" r="1.72"/>
<circle cx="526.3" cy="283.6" r="1.72"/>
<circle cx="533.8" cy="273.5" r="1.72"/>
<circle cx="528.4" cy="189.0" r="1.72"/>
<circle cx="524.8" cy="249.8" r="1.72"/>
<circle cx="518.4" cy="249.8" r="1.72"/>
<circle cx="526.7" cy="151.8" r="1.72"/>
<circle cx="528.8" cy="107.4" r="1.72"/>
<circle cx="516.5" cy="258.4" r="1.72"/>
<circle cx="515.9" cy="195.8" r="1.72"/>
<circle cx="532.5" cy="249.2" r="1.72"/>
<circle cx="516.5" cy="233.5" r="1.72"/>
<circle cx="516.8" cy="235.8" r="1.72"/>
<circle cx="526.7" cy="244.7" r="1.72"/>
<circle cx="515.9" cy="202.8" r="1.72"/>
<circle cx="526.1" cy="238.9" r="1.72"/>
<circle cx="520.1" cy="237.0" r="1.72"/>
<circle cx="533.1" cy="244.8" r="1.72"/>
<circle cx="531.8" cy="246.0" r="1.72"/>
<circle cx="532.5" cy="194.5" r="1.72"/>
<circle cx="533.1" cy="209.8" r="1.72"/>
<circle cx="525.4" cy="268.3" r="1.72"/>
<circle cx="531.8" cy="207.3" r="1.72"/>
<circle cx="526.1" cy="247.3" r="1.72"/>
<circle cx="528.6" cy="258.4" r="1.72"/>
<circle cx="524.2" cy="243.4" r="1.72"/>
<circle cx="522.3" cy="269.0" r="1.72"/>
<circle cx="515.6" cy="188.7" r="1.72"/>
<circle cx="519.1" cy="246.6" r="1.72"/>
<circle cx="527.0" cy="278.2" r="1.72"/>
<circle cx="522.0" cy="174.8" r="1.72"/>
<circle cx="522.3" cy="202.8" r="1.72"/>
<circle cx="528.6" cy="231.9" r="1.72"/>
<circle cx="529.8" cy="192.5" r="1.72"/>
<circle cx="523.4" cy="273.4" r="1.72"/>
<circle cx="533.4" cy="161.7" r="1.72"/>
<circle cx="531.8" cy="253.6" r="1.72"/>
<circle cx="524.9" cy="193.9" r="1.72"/>
<circle cx="524.2" cy="205.1" r="1.72"/>
<circle cx="523.2" cy="279.3" r="1.72"/>
<circle cx="519.1" cy="227.3" r="1.72"/>
<circle cx="529.3" cy="246.6" r="1.72"/>
<circle cx="535.0" cy="203.8" r="1.72"/>
<circle cx="524.8" cy="207.9" r="1.72"/>
<circle cx="530.5" cy="122.7" r="1.72"/>
<circle cx="526.3" cy="187.6" r="1.72"/>
<circle cx="523.6" cy="192.5" r="1.72"/>
<circle cx="521.3" cy="191.8" r="1.72"/>
<circle cx="528.0" cy="202.1" r="1.72"/>
<circle cx="532.7" cy="190.4" r="1.72"/>
<circle cx="521.0" cy="197.9" r="1.72"/>
<circle cx="522.9" cy="256.8" r="1.72"/>
<circle cx="525.9" cy="245.7" r="1.72"/>
<circle cx="525.4" cy="252.0" r="1.72"/>
<circle cx="522.7" cy="183.6" r="1.72"/>
<circle cx="525.1" cy="166.0" r="1.72"/>
<circle cx="514.9" cy="191.8" r="1.72"/>
<circle cx="517.5" cy="185.4" r="1.72"/>
<circle cx="526.3" cy="268.7" r="1.72"/>
<circle cx="529.1" cy="177.9" r="1.72"/>
<circle cx="524.8" cy="210.2" r="1.72"/>
<circle cx="524.2" cy="272.2" r="1.72"/>
<circle cx="521.6" cy="252.7" r="1.72"/>
<circle cx="527.0" cy="198.9" r="1.72"/>
<circle cx="517.1" cy="212.7" r="1.72"/>
<circle cx="522.7" cy="189.0" r="1.72"/>
<circle cx="525.4" cy="233.5" r="1.72"/>
<circle cx="533.4" cy="220.4" r="1.72"/>
<circle cx="524.8" cy="250.9" r="1.72"/>
<circle cx="527.4" cy="223.9" r="1.72"/>
<circle cx="531.2" cy="186.1" r="1.72"/>
<circle cx="518.5" cy="166.3" r="1.72"/>
<circle cx="529.8" cy="181.2" r="1.72"/>
<circle cx="521.6" cy="244.1" r="1.72"/>
<circle cx="518.0" cy="183.3" r="1.72"/>
<circle cx="518.5" cy="174.8" r="1.72"/>
<circle cx="528.0" cy="206.4" r="1.72"/>
<circle cx="530.6" cy="244.3" r="1.72"/>
<circle cx="532.5" cy="232.2" r="1.72"/>
<circle cx="521.2" cy="251.1" r="1.72"/>
<circle cx="525.2" cy="195.1" r="1.72"/>
<circle cx="527.0" cy="216.2" r="1.72"/>
<circle cx="532.5" cy="256.8" r="1.72"/>
<circle cx="533.8" cy="224.8" r="1.72"/>
<circle cx="529.9" cy="224.8" r="1.72"/>
<circle cx="532.5" cy="235.1" r="1.72"/>
<circle cx="534.4" cy="233.5" r="1.72"/>
<circle cx="522.9" cy="246.4" r="1.72"/>
<circle cx="526.1" cy="264.5" r="1.72"/>
<circle cx="528.4" cy="282.9" r="1.72"/>
<circle cx="530.6" cy="198.7" r="1.72"/>
<circle cx="517.8" cy="191.1" r="1.72"/>
</g>
<g fill="#e85a5a" fill-opacity="0.7" stroke="#333" stroke-opacity="0.75" stroke-width="0.5">
<circle cx="621.5" cy="271.2" r="1.72"/>
<circle cx="615.8" cy="202.1" r="1.72"/>
<circle cx="615.1" cy="220.7" r="1.72"/>
<circle cx="617.7" cy="268.3" r="1.72"/>
<circle cx="626.7" cy="270.8" r="1.72"/>
<circle cx="624.7" cy="246.0" r="1.72"/>
<circle cx="630.0" cy="192.5" r="1.72"/>
<circle cx="630.5" cy="234.1" r="1.72"/>
<circle cx="627.3" cy="270.3" r="1.72"/>
<circle cx="631.1" cy="271.5" r="1.72"/>
<circle cx="623.1" cy="174.1" r="1.72"/>
<circle cx="629.6" cy="246.4" r="1.72"/>
<circle cx="618.8" cy="278.1" r="1.72"/>
<circle cx="620.7" cy="163.7" r="1.72"/>
<circle cx="626.4" cy="287.1" r="1.72"/>
<circle cx="616.8" cy="244.7" r="1.72"/>
<circle cx="619.0" cy="258.8" r="1.72"/>
<circle cx="630.5" cy="236.4" r="1.72"/>
<circle cx="627.3" cy="248.9" r="1.72"/>
<circle cx="626.8" cy="297.8" r="1.72"/>
<circle cx="623.4" cy="266.4" r="1.72"/>
<circle cx="614.8" cy="239.2" r="1.72"/>
<circle cx="628.6" cy="241.2" r="1.72"/>
<circle cx="624.7" cy="209.4" r="1.72"/>
<circle cx="621.7" cy="275.9" r="1.72"/>
<circle cx="616.0" cy="185.9" r="1.72"/>
<circle cx="625.4" cy="291.4" r="1.72"/>
<circle cx="631.1" cy="153.8" r="1.72"/>
<circle cx="619.6" cy="241.8" r="1.72"/>
<circle cx="628.2" cy="290.0" r="1.72"/>
<circle cx="614.5" cy="265.1" r="1.72"/>
<circle cx="630.9" cy="255.8" r="1.72"/>
<circle cx="621.9" cy="200.9" r="1.72"/>
<circle cx="629.8" cy="234.5" r="1.72"/>
<circle cx="620.9" cy="245.1" r="1.72"/>
<circle cx="626.0" cy="189.0" r="1.72"/>
<circle cx="621.8" cy="266.5" r="1.72"/>
<circle cx="633.0" cy="235.1" r="1.72"/>
<circle cx="613.2" cy="196.4" r="1.72"/>
<circle cx="616.4" cy="196.1" r="1.72"/>
<circle cx="619.7" cy="273.4" r="1.72"/>
<circle cx="624.3" cy="285.7" r="1.72"/>
<circle cx="629.7" cy="124.5" r="1.72"/>
<circle cx="619.4" cy="251.7" r="1.72"/>
<circle cx="619.7" cy="290.0" r="1.72"/>
<circle cx="615.1" cy="234.1" r="1.72"/>
<circle cx="617.7" cy="249.2" r="1.72"/>
<circle cx="615.1" cy="270.6" r="1.72"/>
<circle cx="621.7" cy="175.5" r="1.72"/>
<circle cx="617.1" cy="230.9" r="1.72"/>
<circle cx="631.8" cy="176.2" r="1.72"/>
<circle cx="613.2" cy="277.2" r="1.72"/>
<circle cx="624.7" cy="260.7" r="1.72"/>
<circle cx="624.1" cy="252.7" r="1.72"/>
<circle cx="629.2" cy="170.5" r="1.72"/>
<circle cx="627.8" cy="132.6" r="1.72"/>
<circle cx="622.8" cy="259.4" r="1.72"/>
<circle cx="613.9" cy="247.3" r="1.72"/>
<circle cx="622.1" cy="174.5" r="1.72"/>
<circle cx="618.8" cy="220.9" r="1.72"/>
<circle cx="624.1" cy="270.9" r="1.72"/>
<circle cx="615.8" cy="206.6" r="1.72"/>
<circle cx="614.2" cy="251.1" r="1.72"/>
<circle cx="617.9" cy="277.6" r="1.72"/>
<circle cx="630.5" cy="249.8" r="1.72"/>
<circle cx="613.9" cy="199.2" r="1.72"/>
<circle cx="627.5" cy="145.0" r="1.72"/>
<circle cx="628.2" cy="153.2" r="1.72"/>
<circle cx="628.5" cy="270.8" r="1.72"/>
<circle cx="625.0" cy="270.6" r="1.72"/>
<circle cx="629.6" cy="259.6" r="1.72"/>
<circle cx="617.2" cy="137.2" r="1.72"/>
<circle cx="625.7" cy="220.7" r="1.72"/>
<circle cx="626.6" cy="196.6" r="1.72"/>
<circle cx="617.1" cy="223.0" r="1.72"/>
<circle cx="628.8" cy="132.3" r="1.72"/>
<circle cx="617.1" cy="254.3" r="1.72"/>
<circle cx="620.9" cy="214.5" r="1.72"/>
<circle cx="630.5" cy="206.4" r="1.72"/>
<circle cx="630.0" cy="276.5" r="1.72"/>
<circle cx="629.2" cy="293.8" r="1.72"/>
<circle cx="624.1" cy="242.8" r="1.72"/>
<circle cx="613.9" cy="274.1" r="1.72"/>
<circle cx="619.7" cy="189.7" r="1.72"/>
<circle cx="626.0" cy="231.5" r="1.72"/>
<circle cx="625.5" cy="264.1" r="1.72"/>
<circle cx="620.0" cy="160.9" r="1.72"/>
<circle cx="616.4" cy="227.1" r="1.72"/>
<circle cx="622.1" cy="274.8" r="1.72"/>
<circle cx="617.7" cy="214.3" r="1.72"/>
<circle cx="622.2" cy="274.1" r="1.72"/>
<circle cx="624.0" cy="189.0" r="1.72"/>
<circle cx="632.1" cy="241.5" r="1.72"/>
<circle cx="622.8" cy="271.7" r="1.72"/>
<circle cx="620.9" cy="223.9" r="1.72"/>
<circle cx="615.1" cy="214.5" r="1.72"/>
<circle cx="625.4" cy="267.7" r="1.72"/>
<circle cx="630.5" cy="200.0" r="1.72"/>
<circle cx="618.3" cy="286.4" r="1.72"/>
<circle cx="623.6" cy="122.3" r="1.72"/>
<circle cx="626.0" cy="271.0" r="1.72"/>
<circle cx="615.5" cy="282.9" r="1.72"/>
<circle cx="625.4" cy="226.8" r="1.72"/>
<circle cx="632.1" cy="277.9" r="1.72"/>
<circle cx="618.9" cy="273.2" r="1.72"/>
<circle cx="629.8" cy="216.2" r="1.72"/>
<circle cx="621.5" cy="262.6" r="1.72"/>
<circle cx="620.9" cy="256.2" r="1.72"/>
<circle cx="622.8" cy="206.6" r="1.72"/>
<circle cx="625.4" cy="136.2" r="1.72"/>
<circle cx="622.2" cy="230.3" r="1.72"/>
<circle cx="629.8" cy="265.5" r="1.72"/>
<circle cx="615.1" cy="242.5" r="1.72"/>
<circle cx="629.2" cy="251.7" r="1.72"/>
<circle cx="629.0" cy="185.9" r="1.72"/>
<circle cx="631.7" cy="184.0" r="1.72"/>
<circle cx="613.9" cy="209.2" r="1.72"/>
<circle cx="627.1" cy="179.5" r="1.72"/>
<circle cx="621.7" cy="157.1" r="1.72"/>
<circle cx="623.4" cy="275.4" r="1.72"/>
<circle cx="626.6" cy="263.5" r="1.72"/>
<circle cx="627.9" cy="206.4" r="1.72"/>
<circle cx="625.0" cy="277.2" r="1.72"/>
<circle cx="616.4" cy="261.3" r="1.72"/>
<circle cx="627.1" cy="278.6" r="1.72"/>
<circle cx="616.6" cy="246.6" r="1.72"/>
<circle cx="618.3" cy="219.6" r="1.72"/>
<circle cx="630.8" cy="247.4" r="1.72"/>
<circle cx="630.2" cy="167.4" r="1.72"/>
<circle cx="625.2" cy="266.5" r="1.72"/>
<circle cx="629.0" cy="272.4" r="1.72"/>
<circle cx="632.1" cy="201.2" r="1.72"/>
<circle cx="617.2" cy="144.4" r="1.72"/>
<circle cx="613.9" cy="226.4" r="1.72"/>
<circle cx="630.0" cy="162.0" r="1.72"/>
<circle cx="620.3" cy="272.2" r="1.72"/>
<circle cx="622.2" cy="203.4" r="1.72"/>
<circle cx="627.1" cy="167.7" r="1.72"/>
<circle cx="614.3" cy="274.4" r="1.72"/>
<circle cx="613.2" cy="292.1" r="1.72"/>
<circle cx="629.2" cy="227.7" r="1.72"/>
<circle cx="621.9" cy="216.8" r="1.72"/>
</g>
<line x1="83" x2="83" y1="240.6" y2="252.3" stroke="#000" stroke-width="1.45"/>
<line x1="78.05" x2="87.95" y1="240.6" y2="240.6" stroke="#000" stroke-width="1.4"/>
<line x1="78.05" x2="87.95" y1="252.3" y2="252.3" stroke="#000" stroke-width="1.4"/>
<circle cx="83" cy="246.2" r="2.2" fill="#000"/>
<line x1="181" x2="181" y1="232.4" y2="244.8" stroke="#000" stroke-width="1.45"/>
<line x1="176.05" x2="185.95" y1="232.4" y2="232.4" stroke="#000" stroke-width="1.4"/>
<line x1="176.05" x2="185.95" y1="244.8" y2="244.8" stroke="#000" stroke-width="1.4"/>
<circle cx="181" cy="239.1" r="2.2" fill="#000"/>
<line x1="278.9" x2="278.9" y1="207.3" y2="224.5" stroke="#000" stroke-width="1.45"/>
<line x1="273.95" x2="283.84999999999997" y1="207.3" y2="207.3" stroke="#000" stroke-width="1.4"/>
<line x1="273.95" x2="283.84999999999997" y1="224.5" y2="224.5" stroke="#000" stroke-width="1.4"/>
<circle cx="278.9" cy="216" r="2.2" fill="#000"/>
<line x1="427" x2="427" y1="242.7" y2="254.1" stroke="#000" stroke-width="1.45"/>
<line x1="422.05" x2="431.95" y1="242.7" y2="242.7" stroke="#000" stroke-width="1.4"/>
<line x1="422.05" x2="431.95" y1="254.1" y2="254.1" stroke="#000" stroke-width="1.4"/>
<circle cx="427" cy="248.4" r="2.2" fill="#000"/>
<line x1="524.9" x2="524.9" y1="212.8" y2="229.5" stroke="#000" stroke-width="1.45"/>
<line x1="519.9499999999999" x2="529.85" y1="212.8" y2="212.8" stroke="#000" stroke-width="1.4"/>
<line x1="519.9499999999999" x2="529.85" y1="229.5" y2="229.5" stroke="#000" stroke-width="1.4"/>
<circle cx="524.9" cy="221" r="2.2" fill="#000"/>
<line x1="622.9" x2="622.9" y1="224.1" y2="239.3" stroke="#000" stroke-width="1.45"/>
<line x1="617.9499999999999" x2="627.85" y1="224.1" y2="224.1" stroke="#000" stroke-width="1.4"/>
<line x1="617.9499999999999" x2="627.85" y1="239.3" y2="239.3" stroke="#000" stroke-width="1.4"/>
<circle cx="622.9" cy="231.7" r="2.2" fill="#000"/>
<path d="M173.00,36.40 L173.00,36.27 173.17,36.26 173.35,36.26 173.52,36.25 173.70,36.24 173.87,36.23 174.05,36.22 174.22,36.21 174.39,36.19 174.57,36.18 174.74,36.17 174.92,36.15 175.09,36.14 175.27,36.12 175.44,36.11 175.61,36.09 175.79,36.07 175.96,36.05 176.14,36.03 176.31,36.00 176.49,35.98 176.66,35.95 176.83,35.92 177.01,35.89 177.18,35.86 177.36,35.83 177.53,35.79 177.70,35.76 177.88,35.72 178.05,35.67 178.23,35.63 178.40,35.58 178.58,35.53 178.75,35.47 178.92,35.42 179.10,35.35 179.27,35.29 179.45,35.22 179.62,35.15 179.80,35.07 179.97,34.99 180.14,34.90 180.32,34.81 180.49,34.71 180.67,34.61 180.84,34.50 181.02,34.38 181.19,34.26 181.36,34.13 181.54,33.99 181.71,33.85 181.89,33.70 182.06,33.54 182.24,33.37 182.41,33.19 182.58,33.00 182.76,32.80 182.93,32.60 183.11,32.38 183.28,32.15 183.46,31.91 183.63,31.65 183.80,31.39 183.98,31.11 184.15,30.82 184.33,30.52 184.50,30.20 184.67,29.87 184.85,29.53 185.02,29.17 185.20,28.80 185.37,28.42 185.55,28.01 185.72,27.60 185.89,27.17 186.07,26.72 186.24,26.27 186.42,25.79 186.59,25.31 186.77,24.81 186.94,24.29 187.11,23.77 187.29,23.23 187.46,22.68 187.64,22.12 187.81,21.55 187.99,20.98 188.16,20.39 188.33,19.80 188.51,19.20 188.68,18.60 188.86,18.00 189.03,17.40 189.21,16.80 189.38,16.20 189.55,15.60 189.73,15.01 189.90,14.43 190.08,13.86 190.25,13.30 190.43,12.76 190.60,12.23 190.77,11.72 190.95,11.23 191.12,10.76 191.30,10.31 191.47,9.89 191.64,9.50 191.82,9.14 191.99,8.81 192.17,8.51 192.34,8.24 192.52,8.01 192.69,7.81 192.86,7.66 193.04,7.54 193.21,7.45 193.39,7.41 193.56,7.40 193.74,7.43 193.91,7.50 194.08,7.60 194.26,7.74 194.43,7.91 194.61,8.11 194.78,8.35 194.96,8.62 195.13,8.92 195.30,9.25 195.48,9.60 195.65,9.99 195.83,10.40 196.00,10.83 196.18,11.28 196.35,11.76 196.52,12.25 196.70,12.76 196.87,13.28 197.05,13.82 197.22,14.36 197.39,14.92 197.57,15.49 197.74,16.06 197.92,16.63 198.09,17.21 198.27,17.79 198.44,18.37 198.61,18.95 198.79,19.52 198.96,20.10 199.14,20.66 199.31,21.22 199.49,21.77 199.66,22.32 199.83,22.85 200.01,23.38 200.18,23.89 200.36,24.39 200.53,24.88 200.71,25.36 200.88,25.83 201.05,26.28 201.23,26.72 201.40,27.15 201.58,27.57 201.75,27.97 201.93,28.35 202.10,28.73 202.27,29.09 202.45,29.44 202.62,29.77 202.80,30.09 202.97,30.40 203.15,30.70 203.32,30.98 203.49,31.25 203.67,31.51 203.84,31.76 204.02,32.00 204.19,32.23 204.37,32.45 204.54,32.65 204.71,32.85 204.89,33.04 205.06,33.22 205.24,33.39 205.41,33.55 205.58,33.70 205.76,33.85 205.93,33.99 206.11,34.12 206.28,34.24 206.46,34.36 206.63,34.48 206.80,34.58 206.98,34.68 207.15,34.78 207.33,34.87 207.50,34.95 207.68,35.04 207.85,35.11 208.02,35.18 208.20,35.25 208.37,35.32 208.55,35.38 208.72,35.44 208.90,35.49 209.07,35.54 209.24,35.59 209.42,35.64 209.59,35.68 209.77,35.72 209.94,35.76 210.12,35.79 210.29,35.83 210.46,35.86 210.64,35.89 210.81,35.92 210.99,35.95 211.16,35.97 211.33,36.00 211.51,36.02 211.68,36.04 211.86,36.06 212.03,36.08 212.21,36.10 212.38,36.12 212.55,36.13 212.73,36.15 212.90,36.16 213.08,36.17 213.25,36.19 213.43,36.20 213.60,36.21 213.77,36.22 213.95,36.23 214.12,36.24 214.30,36.25 214.47,36.26 214.65,36.26 214.82,36.27 L214.82,36.40 Z" fill="#d3d3d3"/>
<line x1="152.15" x2="152.15" y1="8.20" y2="35.40" stroke="#808080" stroke-width="0.65" stroke-dasharray="2,2.5"/>
<rect x="150.85" y="34.50" width="2.6" height="2.6" fill="#0000ff" stroke="#000050" stroke-width="0.45"/>
<text transform="translate(142.68,42.10) scale(0.1)" text-anchor="middle" font-size="50" fill="#000" stroke="#000" stroke-width="2.0">-1</text>
<text transform="translate(152.15,42.10) scale(0.1)" text-anchor="middle" font-size="50" fill="#000" stroke="#000" stroke-width="2.0">0</text>
<text transform="translate(161.62,42.10) scale(0.1)" text-anchor="middle" font-size="50" fill="#000" stroke="#000" stroke-width="2.0">1</text>
<text transform="translate(171.09,42.10) scale(0.1)" text-anchor="middle" font-size="50" fill="#000" stroke="#000" stroke-width="2.0">2</text>
<text transform="translate(180.56,42.10) scale(0.1)" text-anchor="middle" font-size="50" fill="#000" stroke="#000" stroke-width="2.0">3</text>
<text transform="translate(190.03,42.10) scale(0.1)" text-anchor="middle" font-size="50" fill="#000" stroke="#000" stroke-width="2.0">4</text>
<text transform="translate(199.50,42.10) scale(0.1)" text-anchor="middle" font-size="50" fill="#000" stroke="#000" stroke-width="2.0">5</text>
<text transform="translate(208.97,42.10) scale(0.1)" text-anchor="middle" font-size="50" fill="#000" stroke="#000" stroke-width="2.0">6</text>
<text transform="translate(218.44,42.10) scale(0.1)" text-anchor="middle" font-size="50" fill="#000" stroke="#000" stroke-width="2.0">7</text>
<path d="M96.57,78.70 L96.57,78.57 96.73,78.56 96.89,78.56 97.05,78.55 97.21,78.54 97.36,78.53 97.52,78.52 97.68,78.50 97.84,78.49 98.00,78.48 98.16,78.46 98.32,78.45 98.48,78.43 98.64,78.41 98.79,78.39 98.95,78.37 99.11,78.35 99.27,78.33 99.43,78.30 99.59,78.28 99.75,78.25 99.91,78.22 100.07,78.19 100.22,78.15 100.38,78.12 100.54,78.08 100.70,78.04 100.86,77.99 101.02,77.95 101.18,77.90 101.34,77.84 101.50,77.79 101.65,77.73 101.81,77.66 101.97,77.59 102.13,77.52 102.29,77.44 102.45,77.36 102.61,77.27 102.77,77.18 102.93,77.08 103.08,76.97 103.24,76.86 103.40,76.74 103.56,76.62 103.72,76.48 103.88,76.34 104.04,76.19 104.20,76.03 104.35,75.86 104.51,75.69 104.67,75.50 104.83,75.30 104.99,75.09 105.15,74.87 105.31,74.64 105.47,74.39 105.63,74.13 105.78,73.86 105.94,73.57 106.10,73.28 106.26,72.96 106.42,72.63 106.58,72.29 106.74,71.93 106.90,71.55 107.06,71.16 107.21,70.76 107.37,70.33 107.53,69.90 107.69,69.44 107.85,68.97 108.01,68.48 108.17,67.98 108.33,67.46 108.49,66.93 108.64,66.38 108.80,65.82 108.96,65.24 109.12,64.66 109.28,64.06 109.44,63.45 109.60,62.84 109.76,62.22 109.92,61.59 110.07,60.96 110.23,60.32 110.39,59.69 110.55,59.05 110.71,58.42 110.87,57.80 111.03,57.18 111.19,56.58 111.35,55.98 111.50,55.40 111.66,54.84 111.82,54.30 111.98,53.78 112.14,53.28 112.30,52.81 112.46,52.37 112.62,51.96 112.78,51.58 112.93,51.23 113.09,50.93 113.25,50.66 113.41,50.43 113.57,50.24 113.73,50.09 113.89,49.98 114.05,49.92 114.21,49.90 114.36,49.92 114.52,49.97 114.68,50.05 114.84,50.16 115.00,50.30 115.16,50.48 115.32,50.68 115.48,50.91 115.63,51.17 115.79,51.46 115.95,51.77 116.11,52.11 116.27,52.47 116.43,52.86 116.59,53.26 116.75,53.69 116.91,54.13 117.06,54.59 117.22,55.06 117.38,55.55 117.54,56.05 117.70,56.56 117.86,57.08 118.02,57.61 118.18,58.15 118.34,58.69 118.49,59.23 118.65,59.78 118.81,60.32 118.97,60.87 119.13,61.41 119.29,61.95 119.45,62.49 119.61,63.02 119.77,63.55 119.92,64.07 120.08,64.59 120.24,65.09 120.40,65.59 120.56,66.08 120.72,66.56 120.88,67.02 121.04,67.48 121.20,67.93 121.35,68.36 121.51,68.78 121.67,69.20 121.83,69.60 121.99,69.98 122.15,70.36 122.31,70.72 122.47,71.08 122.63,71.42 122.78,71.74 122.94,72.06 123.10,72.37 123.26,72.66 123.42,72.94 123.58,73.21 123.74,73.47 123.90,73.72 124.06,73.96 124.21,74.19 124.37,74.41 124.53,74.63 124.69,74.83 124.85,75.02 125.01,75.20 125.17,75.38 125.33,75.55 125.49,75.71 125.64,75.86 125.80,76.01 125.96,76.15 126.12,76.28 126.28,76.40 126.44,76.52 126.60,76.64 126.76,76.74 126.92,76.85 127.07,76.94 127.23,77.04 127.39,77.12 127.55,77.21 127.71,77.29 127.87,77.36 128.03,77.43 128.19,77.50 128.34,77.57 128.50,77.63 128.66,77.68 128.82,77.74 128.98,77.79 129.14,77.84 129.30,77.88 129.46,77.93 129.62,77.97 129.77,78.01 129.93,78.05 130.09,78.08 130.25,78.11 130.41,78.15 130.57,78.18 130.73,78.20 130.89,78.23 131.05,78.26 131.20,78.28 131.36,78.30 131.52,78.32 131.68,78.34 131.84,78.36 132.00,78.38 132.16,78.40 132.32,78.41 132.48,78.43 132.63,78.44 132.79,78.46 132.95,78.47 133.11,78.48 133.27,78.49 133.43,78.50 133.59,78.51 133.75,78.52 133.91,78.53 134.06,78.54 134.22,78.55 134.38,78.56 134.54,78.57 134.70,78.57 L134.70,78.70 Z" fill="#d3d3d3"/>
<line x1="105.40" x2="105.40" y1="49.90" y2="77.70" stroke="#808080" stroke-width="0.65" stroke-dasharray="2,2.5"/>
<rect x="104.10" y="76.80" width="2.6" height="2.6" fill="#0000ff" stroke="#000050" stroke-width="0.45"/>
<text transform="translate(95.90,84.10) scale(0.1)" text-anchor="middle" font-size="50" fill="#000" stroke="#000" stroke-width="2.0">-1</text>
<text transform="translate(105.40,84.10) scale(0.1)" text-anchor="middle" font-size="50" fill="#000" stroke="#000" stroke-width="2.0">0</text>
<text transform="translate(114.90,84.10) scale(0.1)" text-anchor="middle" font-size="50" fill="#000" stroke="#000" stroke-width="2.0">1</text>
<text transform="translate(124.40,84.10) scale(0.1)" text-anchor="middle" font-size="50" fill="#000" stroke="#000" stroke-width="2.0">2</text>
<text transform="translate(133.90,84.10) scale(0.1)" text-anchor="middle" font-size="50" fill="#000" stroke="#000" stroke-width="2.0">3</text>
<text transform="translate(143.40,84.10) scale(0.1)" text-anchor="middle" font-size="50" fill="#000" stroke="#000" stroke-width="2.0">4</text>
<text transform="translate(152.90,84.10) scale(0.1)" text-anchor="middle" font-size="50" fill="#000" stroke="#000" stroke-width="2.0">5</text>
<text transform="translate(162.40,84.10) scale(0.1)" text-anchor="middle" font-size="50" fill="#000" stroke="#000" stroke-width="2.0">6</text>
<text transform="translate(171.90,84.10) scale(0.1)" text-anchor="middle" font-size="50" fill="#000" stroke="#000" stroke-width="2.0">7</text>
<path d="M213.11,78.40 L213.11,78.27 213.28,78.27 213.45,78.26 213.62,78.25 213.79,78.24 213.96,78.23 214.13,78.22 214.31,78.21 214.48,78.20 214.65,78.19 214.82,78.17 214.99,78.16 215.16,78.14 215.33,78.13 215.50,78.11 215.67,78.09 215.84,78.07 216.01,78.05 216.18,78.03 216.36,78.01 216.53,77.99 216.70,77.96 216.87,77.93 217.04,77.90 217.21,77.87 217.38,77.84 217.55,77.80 217.72,77.77 217.89,77.73 218.06,77.68 218.23,77.64 218.41,77.59 218.58,77.54 218.75,77.49 218.92,77.43 219.09,77.37 219.26,77.31 219.43,77.24 219.60,77.17 219.77,77.09 219.94,77.01 220.11,76.92 220.28,76.83 220.46,76.74 220.63,76.64 220.80,76.53 220.97,76.41 221.14,76.29 221.31,76.17 221.48,76.03 221.65,75.89 221.82,75.74 221.99,75.58 222.16,75.42 222.33,75.24 222.51,75.06 222.68,74.86 222.85,74.66 223.02,74.44 223.19,74.22 223.36,73.98 223.53,73.73 223.70,73.47 223.87,73.20 224.04,72.91 224.21,72.61 224.38,72.30 224.56,71.98 224.73,71.64 224.90,71.29 225.07,70.92 225.24,70.54 225.41,70.15 225.58,69.74 225.75,69.32 225.92,68.88 226.09,68.43 226.26,67.96 226.43,67.48 226.61,66.99 226.78,66.49 226.95,65.97 227.12,65.44 227.29,64.90 227.46,64.35 227.63,63.79 227.80,63.22 227.97,62.65 228.14,62.07 228.31,61.48 228.48,60.89 228.66,60.30 228.83,59.70 229.00,59.11 229.17,58.52 229.34,57.94 229.51,57.36 229.68,56.79 229.85,56.23 230.02,55.68 230.19,55.14 230.36,54.62 230.53,54.12 230.71,53.64 230.88,53.18 231.05,52.74 231.22,52.33 231.39,51.95 231.56,51.59 231.73,51.27 231.90,50.98 232.07,50.72 232.24,50.49 232.41,50.30 232.58,50.15 232.76,50.03 232.93,49.95 233.10,49.91 233.27,49.90 233.44,49.93 233.61,50.00 233.78,50.10 233.95,50.24 234.12,50.41 234.29,50.61 234.46,50.84 234.63,51.11 234.81,51.41 234.98,51.73 235.15,52.08 235.32,52.46 235.49,52.86 235.66,53.29 235.83,53.73 236.00,54.20 236.17,54.68 236.34,55.18 236.51,55.70 236.68,56.23 236.86,56.77 237.03,57.31 237.20,57.87 237.37,58.43 237.54,59.00 237.71,59.56 237.88,60.13 238.05,60.70 238.22,61.27 238.39,61.84 238.56,62.40 238.73,62.95 238.91,63.50 239.08,64.04 239.25,64.58 239.42,65.10 239.59,65.62 239.76,66.12 239.93,66.62 240.10,67.10 240.27,67.57 240.44,68.03 240.61,68.47 240.78,68.90 240.96,69.32 241.13,69.73 241.30,70.12 241.47,70.50 241.64,70.87 241.81,71.22 241.98,71.57 242.15,71.89 242.32,72.21 242.49,72.51 242.66,72.80 242.83,73.08 243.01,73.35 243.18,73.60 243.35,73.85 243.52,74.08 243.69,74.31 243.86,74.52 244.03,74.72 244.20,74.92 244.37,75.10 244.54,75.28 244.71,75.44 244.88,75.60 245.06,75.75 245.23,75.90 245.40,76.03 245.57,76.16 245.74,76.28 245.91,76.40 246.08,76.51 246.25,76.62 246.42,76.71 246.59,76.81 246.76,76.90 246.94,76.98 247.11,77.06 247.28,77.14 247.45,77.21 247.62,77.27 247.79,77.34 247.96,77.40 248.13,77.45 248.30,77.51 248.47,77.56 248.64,77.60 248.81,77.65 248.98,77.69 249.16,77.73 249.33,77.77 249.50,77.81 249.67,77.84 249.84,77.87 250.01,77.90 250.18,77.93 250.35,77.96 250.52,77.98 250.69,78.00 250.86,78.03 251.03,78.05 251.21,78.07 251.38,78.09 251.55,78.10 251.72,78.12 251.89,78.14 252.06,78.15 252.23,78.16 252.40,78.18 252.57,78.19 252.74,78.20 252.91,78.21 253.08,78.22 253.26,78.23 253.43,78.24 253.60,78.25 253.77,78.26 253.94,78.27 254.11,78.27 L254.11,78.40 Z" fill="#d3d3d3"/>
<line x1="202.20" x2="202.20" y1="49.90" y2="77.40" stroke="#808080" stroke-width="0.65" stroke-dasharray="2,2.5"/>
<rect x="200.90" y="76.50" width="2.6" height="2.6" fill="#0000ff" stroke="#000050" stroke-width="0.45"/>
<text transform="translate(192.70,84.10) scale(0.1)" text-anchor="middle" font-size="50" fill="#000" stroke="#000" stroke-width="2.0">-1</text>
<text transform="translate(202.20,84.10) scale(0.1)" text-anchor="middle" font-size="50" fill="#000" stroke="#000" stroke-width="2.0">0</text>
<text transform="translate(211.70,84.10) scale(0.1)" text-anchor="middle" font-size="50" fill="#000" stroke="#000" stroke-width="2.0">1</text>
<text transform="translate(221.20,84.10) scale(0.1)" text-anchor="middle" font-size="50" fill="#000" stroke="#000" stroke-width="2.0">2</text>
<text transform="translate(230.70,84.10) scale(0.1)" text-anchor="middle" font-size="50" fill="#000" stroke="#000" stroke-width="2.0">3</text>
<text transform="translate(240.20,84.10) scale(0.1)" text-anchor="middle" font-size="50" fill="#000" stroke="#000" stroke-width="2.0">4</text>
<text transform="translate(249.70,84.10) scale(0.1)" text-anchor="middle" font-size="50" fill="#000" stroke="#000" stroke-width="2.0">5</text>
<text transform="translate(259.20,84.10) scale(0.1)" text-anchor="middle" font-size="50" fill="#000" stroke="#000" stroke-width="2.0">6</text>
<text transform="translate(268.70,84.10) scale(0.1)" text-anchor="middle" font-size="50" fill="#000" stroke="#000" stroke-width="2.0">7</text>
<path d="M502.54,36.30 L502.54,36.17 502.70,36.16 502.85,36.15 503.01,36.14 503.17,36.13 503.33,36.12 503.48,36.11 503.64,36.10 503.80,36.09 503.95,36.07 504.11,36.06 504.27,36.05 504.43,36.03 504.58,36.01 504.74,36.00 504.90,35.98 505.05,35.96 505.21,35.94 505.37,35.92 505.53,35.89 505.68,35.87 505.84,35.84 506.00,35.81 506.15,35.78 506.31,35.75 506.47,35.72 506.63,35.68 506.78,35.64 506.94,35.60 507.10,35.56 507.25,35.52 507.41,35.47 507.57,35.42 507.73,35.36 507.88,35.31 508.04,35.24 508.20,35.18 508.36,35.11 508.51,35.04 508.67,34.96 508.83,34.88 508.98,34.80 509.14,34.71 509.30,34.61 509.46,34.51 509.61,34.40 509.77,34.29 509.93,34.17 510.08,34.04 510.24,33.91 510.40,33.77 510.56,33.62 510.71,33.46 510.87,33.30 511.03,33.12 511.18,32.94 511.34,32.74 511.50,32.54 511.66,32.33 511.81,32.11 511.97,31.87 512.13,31.63 512.28,31.37 512.44,31.10 512.60,30.82 512.76,30.52 512.91,30.21 513.07,29.89 513.23,29.55 513.38,29.21 513.54,28.84 513.70,28.46 513.86,28.07 514.01,27.66 514.17,27.24 514.33,26.81 514.48,26.36 514.64,25.89 514.80,25.41 514.96,24.92 515.11,24.41 515.27,23.89 515.43,23.35 515.58,22.81 515.74,22.25 515.90,21.68 516.06,21.10 516.21,20.51 516.37,19.91 516.53,19.30 516.68,18.69 516.84,18.08 517.00,17.46 517.16,16.84 517.31,16.21 517.47,15.59 517.63,14.98 517.79,14.36 517.94,13.76 518.10,13.16 518.26,12.57 518.41,11.99 518.57,11.43 518.73,10.89 518.89,10.36 519.04,9.85 519.20,9.37 519.36,8.91 519.51,8.47 519.67,8.06 519.83,7.69 519.99,7.34 520.14,7.02 520.30,6.74 520.46,6.50 520.61,6.28 520.77,6.11 520.93,5.98 521.09,5.88 521.24,5.82 521.40,5.80 521.56,5.82 521.71,5.88 521.87,5.98 522.03,6.11 522.19,6.28 522.34,6.50 522.50,6.74 522.66,7.02 522.81,7.34 522.97,7.69 523.13,8.06 523.29,8.47 523.44,8.91 523.60,9.37 523.76,9.85 523.91,10.36 524.07,10.89 524.23,11.43 524.39,11.99 524.54,12.57 524.70,13.16 524.86,13.76 525.01,14.36 525.17,14.98 525.33,15.59 525.49,16.21 525.64,16.84 525.80,17.46 525.96,18.08 526.12,18.69 526.27,19.30 526.43,19.91 526.59,20.51 526.74,21.10 526.90,21.68 527.06,22.25 527.22,22.81 527.37,23.35 527.53,23.89 527.69,24.41 527.84,24.92 528.00,25.41 528.16,25.89 528.32,26.36 528.47,26.81 528.63,27.24 528.79,27.66 528.94,28.07 529.10,28.46 529.26,28.84 529.42,29.21 529.57,29.55 529.73,29.89 529.89,30.21 530.04,30.52 530.20,30.82 530.36,31.10 530.52,31.37 530.67,31.63 530.83,31.87 530.99,32.11 531.14,32.33 531.30,32.54 531.46,32.74 531.62,32.94 531.77,33.12 531.93,33.30 532.09,33.46 532.24,33.62 532.40,33.77 532.56,33.91 532.72,34.04 532.87,34.17 533.03,34.29 533.19,34.40 533.34,34.51 533.50,34.61 533.66,34.71 533.82,34.80 533.97,34.88 534.13,34.96 534.29,35.04 534.44,35.11 534.60,35.18 534.76,35.24 534.92,35.31 535.07,35.36 535.23,35.42 535.39,35.47 535.54,35.52 535.70,35.56 535.86,35.60 536.02,35.64 536.17,35.68 536.33,35.72 536.49,35.75 536.65,35.78 536.80,35.81 536.96,35.84 537.12,35.87 537.27,35.89 537.43,35.92 537.59,35.94 537.75,35.96 537.90,35.98 538.06,36.00 538.22,36.01 538.37,36.03 538.53,36.05 538.69,36.06 538.85,36.07 539.00,36.09 539.16,36.10 539.32,36.11 539.47,36.12 539.63,36.13 539.79,36.14 539.95,36.15 540.10,36.16 540.26,36.17 L540.26,36.30 Z" fill="#d3d3d3"/>
<line x1="499.60" x2="499.60" y1="8.00" y2="35.30" stroke="#808080" stroke-width="0.65" stroke-dasharray="2,2.5"/>
<rect x="498.30" y="34.40" width="2.6" height="2.6" fill="#0000ff" stroke="#000050" stroke-width="0.45"/>
<text transform="translate(490.20,41.80) scale(0.1)" text-anchor="middle" font-size="50" fill="#000" stroke="#000" stroke-width="2.0">-1</text>
<text transform="translate(499.60,41.80) scale(0.1)" text-anchor="middle" font-size="50" fill="#000" stroke="#000" stroke-width="2.0">0</text>
<text transform="translate(509.00,41.80) scale(0.1)" text-anchor="middle" font-size="50" fill="#000" stroke="#000" stroke-width="2.0">1</text>
<text transform="translate(518.40,41.80) scale(0.1)" text-anchor="middle" font-size="50" fill="#000" stroke="#000" stroke-width="2.0">2</text>
<text transform="translate(527.80,41.80) scale(0.1)" text-anchor="middle" font-size="50" fill="#000" stroke="#000" stroke-width="2.0">3</text>
<text transform="translate(537.20,41.80) scale(0.1)" text-anchor="middle" font-size="50" fill="#000" stroke="#000" stroke-width="2.0">4</text>
<text transform="translate(546.60,41.80) scale(0.1)" text-anchor="middle" font-size="50" fill="#000" stroke="#000" stroke-width="2.0">5</text>
<text transform="translate(556.00,41.80) scale(0.1)" text-anchor="middle" font-size="50" fill="#000" stroke="#000" stroke-width="2.0">6</text>
<text transform="translate(565.40,41.80) scale(0.1)" text-anchor="middle" font-size="50" fill="#000" stroke="#000" stroke-width="2.0">7</text>
<path d="M463.31,78.30 L463.31,78.17 463.48,78.16 463.64,78.15 463.81,78.14 463.98,78.13 464.15,78.12 464.31,78.11 464.48,78.10 464.65,78.09 464.82,78.08 464.98,78.06 465.15,78.05 465.32,78.03 465.49,78.02 465.65,78.00 465.82,77.98 465.99,77.96 466.16,77.94 466.32,77.92 466.49,77.90 466.66,77.87 466.83,77.85 466.99,77.82 467.16,77.79 467.33,77.76 467.50,77.72 467.66,77.69 467.83,77.65 468.00,77.61 468.17,77.57 468.33,77.53 468.50,77.48 468.67,77.43 468.83,77.37 469.00,77.32 469.17,77.26 469.34,77.20 469.50,77.13 469.67,77.06 469.84,76.98 470.01,76.90 470.17,76.82 470.34,76.73 470.51,76.63 470.68,76.53 470.84,76.43 471.01,76.31 471.18,76.20 471.35,76.07 471.51,75.94 471.68,75.80 471.85,75.65 472.02,75.50 472.18,75.33 472.35,75.16 472.52,74.98 472.69,74.79 472.85,74.59 473.02,74.38 473.19,74.16 473.36,73.93 473.52,73.69 473.69,73.43 473.86,73.17 474.02,72.89 474.19,72.60 474.36,72.29 474.53,71.97 474.69,71.64 474.86,71.30 475.03,70.94 475.20,70.57 475.36,70.18 475.53,69.78 475.70,69.36 475.87,68.93 476.03,68.49 476.20,68.03 476.37,67.55 476.54,67.06 476.70,66.56 476.87,66.05 477.04,65.52 477.21,64.98 477.37,64.43 477.54,63.87 477.71,63.30 477.88,62.71 478.04,62.12 478.21,61.53 478.38,60.92 478.54,60.32 478.71,59.71 478.88,59.09 479.05,58.48 479.21,57.87 479.38,57.26 479.55,56.65 479.72,56.05 479.88,55.46 480.05,54.88 480.22,54.31 480.39,53.76 480.55,53.22 480.72,52.70 480.89,52.20 481.06,51.72 481.22,51.27 481.39,50.84 481.56,50.43 481.73,50.06 481.89,49.72 482.06,49.41 482.23,49.13 482.40,48.89 482.56,48.68 482.73,48.51 482.90,48.37 483.07,48.28 483.23,48.22 483.40,48.20 483.57,48.22 483.73,48.28 483.90,48.37 484.07,48.51 484.24,48.68 484.40,48.89 484.57,49.13 484.74,49.41 484.91,49.72 485.07,50.06 485.24,50.43 485.41,50.84 485.58,51.27 485.74,51.72 485.91,52.20 486.08,52.70 486.25,53.22 486.41,53.76 486.58,54.31 486.75,54.88 486.92,55.46 487.08,56.05 487.25,56.65 487.42,57.26 487.59,57.87 487.75,58.48 487.92,59.09 488.09,59.71 488.26,60.32 488.42,60.92 488.59,61.53 488.76,62.12 488.92,62.71 489.09,63.30 489.26,63.87 489.43,64.43 489.59,64.98 489.76,65.52 489.93,66.05 490.10,66.56 490.26,67.06 490.43,67.55 490.60,68.03 490.77,68.49 490.93,68.93 491.10,69.36 491.27,69.78 491.44,70.18 491.60,70.57 491.77,70.94 491.94,71.30 492.11,71.64 492.27,71.97 492.44,72.29 492.61,72.60 492.78,72.89 492.94,73.17 493.11,73.43 493.28,73.69 493.44,73.93 493.61,74.16 493.78,74.38 493.95,74.59 494.11,74.79 494.28,74.98 494.45,75.16 494.62,75.33 494.78,75.50 494.95,75.65 495.12,75.80 495.29,75.94 495.45,76.07 495.62,76.20 495.79,76.31 495.96,76.43 496.12,76.53 496.29,76.63 496.46,76.73 496.63,76.82 496.79,76.90 496.96,76.98 497.13,77.06 497.30,77.13 497.46,77.20 497.63,77.26 497.80,77.32 497.97,77.37 498.13,77.43 498.30,77.48 498.47,77.53 498.63,77.57 498.80,77.61 498.97,77.65 499.14,77.69 499.30,77.72 499.47,77.76 499.64,77.79 499.81,77.82 499.97,77.85 500.14,77.87 500.31,77.90 500.48,77.92 500.64,77.94 500.81,77.96 500.98,77.98 501.15,78.00 501.31,78.02 501.48,78.03 501.65,78.05 501.82,78.06 501.98,78.08 502.15,78.09 502.32,78.10 502.49,78.11 502.65,78.12 502.82,78.13 502.99,78.14 503.16,78.15 503.32,78.16 503.49,78.17 L503.49,78.30 Z" fill="#d3d3d3"/>
<line x1="445.40" x2="445.40" y1="49.50" y2="77.30" stroke="#808080" stroke-width="0.65" stroke-dasharray="2,2.5"/>
<rect x="444.10" y="76.40" width="2.6" height="2.6" fill="#0000ff" stroke="#000050" stroke-width="0.45"/>
<text transform="translate(435.97,84.10) scale(0.1)" text-anchor="middle" font-size="50" fill="#000" stroke="#000" stroke-width="2.0">-1</text>
<text transform="translate(445.40,84.10) scale(0.1)" text-anchor="middle" font-size="50" fill="#000" stroke="#000" stroke-width="2.0">0</text>
<text transform="translate(454.83,84.10) scale(0.1)" text-anchor="middle" font-size="50" fill="#000" stroke="#000" stroke-width="2.0">1</text>
<text transform="translate(464.26,84.10) scale(0.1)" text-anchor="middle" font-size="50" fill="#000" stroke="#000" stroke-width="2.0">2</text>
<text transform="translate(473.69,84.10) scale(0.1)" text-anchor="middle" font-size="50" fill="#000" stroke="#000" stroke-width="2.0">3</text>
<text transform="translate(483.12,84.10) scale(0.1)" text-anchor="middle" font-size="50" fill="#000" stroke="#000" stroke-width="2.0">4</text>
<text transform="translate(492.55,84.10) scale(0.1)" text-anchor="middle" font-size="50" fill="#000" stroke="#000" stroke-width="2.0">5</text>
<text transform="translate(501.98,84.10) scale(0.1)" text-anchor="middle" font-size="50" fill="#000" stroke="#000" stroke-width="2.0">6</text>
<text transform="translate(511.41,84.10) scale(0.1)" text-anchor="middle" font-size="50" fill="#000" stroke="#000" stroke-width="2.0">7</text>
<path d="M570.38,78.30 L570.38,78.17 570.55,78.16 570.73,78.15 570.90,78.14 571.07,78.13 571.24,78.12 571.42,78.11 571.59,78.10 571.76,78.09 571.93,78.08 572.11,78.07 572.28,78.05 572.45,78.04 572.62,78.02 572.80,78.01 572.97,77.99 573.14,77.97 573.31,77.95 573.49,77.93 573.66,77.91 573.83,77.89 574.00,77.86 574.18,77.84 574.35,77.81 574.52,77.78 574.69,77.75 574.87,77.72 575.04,77.68 575.21,77.64 575.38,77.61 575.56,77.56 575.73,77.52 575.90,77.47 576.07,77.43 576.25,77.37 576.42,77.32 576.59,77.26 576.76,77.20 576.94,77.13 577.11,77.07 577.28,76.99 577.45,76.92 577.63,76.83 577.80,76.75 577.97,76.66 578.14,76.56 578.32,76.46 578.49,76.35 578.66,76.24 578.83,76.12 579.01,76.00 579.18,75.87 579.35,75.73 579.52,75.58 579.70,75.43 579.87,75.26 580.04,75.09 580.21,74.92 580.39,74.73 580.56,74.53 580.73,74.32 580.91,74.11 581.08,73.88 581.25,73.64 581.42,73.39 581.60,73.13 581.77,72.86 581.94,72.58 582.11,72.28 582.29,71.97 582.46,71.65 582.63,71.31 582.80,70.97 582.98,70.61 583.15,70.23 583.32,69.84 583.49,69.44 583.67,69.03 583.84,68.60 584.01,68.16 584.18,67.70 584.36,67.23 584.53,66.75 584.70,66.25 584.87,65.75 585.05,65.23 585.22,64.70 585.39,64.16 585.56,63.61 585.74,63.05 585.91,62.48 586.08,61.90 586.25,61.32 586.43,60.73 586.60,60.14 586.77,59.55 586.94,58.95 587.12,58.35 587.29,57.76 587.46,57.17 587.63,56.58 587.81,56.00 587.98,55.43 588.15,54.87 588.32,54.31 588.50,53.77 588.67,53.25 588.84,52.74 589.01,52.26 589.19,51.79 589.36,51.34 589.53,50.92 589.70,50.53 589.88,50.16 590.05,49.81 590.22,49.50 590.39,49.22 590.57,48.97 590.74,48.76 590.91,48.58 591.09,48.43 591.26,48.32 591.43,48.24 591.60,48.21 591.78,48.20 591.95,48.24 592.12,48.32 592.29,48.44 592.47,48.60 592.64,48.80 592.81,49.04 592.98,49.31 593.16,49.62 593.33,49.96 593.50,50.34 593.67,50.75 593.85,51.19 594.02,51.65 594.19,52.14 594.36,52.65 594.54,53.19 594.71,53.74 594.88,54.31 595.05,54.90 595.23,55.50 595.40,56.11 595.57,56.72 595.74,57.35 595.92,57.98 596.09,58.61 596.26,59.24 596.43,59.87 596.61,60.50 596.78,61.13 596.95,61.75 597.12,62.36 597.30,62.96 597.47,63.56 597.64,64.15 597.81,64.72 597.99,65.28 598.16,65.83 598.33,66.37 598.50,66.89 598.68,67.39 598.85,67.89 599.02,68.37 599.19,68.83 599.37,69.27 599.54,69.71 599.71,70.12 599.88,70.52 600.06,70.91 600.23,71.28 600.40,71.64 600.57,71.98 600.75,72.30 600.92,72.62 601.09,72.92 601.26,73.20 601.44,73.47 601.61,73.73 601.78,73.98 601.96,74.22 602.13,74.44 602.30,74.66 602.47,74.86 602.65,75.05 602.82,75.23 602.99,75.41 603.16,75.57 603.34,75.73 603.51,75.87 603.68,76.01 603.85,76.15 604.03,76.27 604.20,76.39 604.37,76.50 604.54,76.60 604.72,76.70 604.89,76.80 605.06,76.89 605.23,76.97 605.41,77.05 605.58,77.12 605.75,77.19 605.92,77.26 606.10,77.32 606.27,77.38 606.44,77.43 606.61,77.48 606.79,77.53 606.96,77.58 607.13,77.62 607.30,77.66 607.48,77.70 607.65,77.73 607.82,77.77 607.99,77.80 608.17,77.83 608.34,77.86 608.51,77.88 608.68,77.91 608.86,77.93 609.03,77.95 609.20,77.97 609.37,77.99 609.55,78.01 609.72,78.03 609.89,78.04 610.06,78.06 610.24,78.07 610.41,78.09 610.58,78.10 610.75,78.11 610.93,78.12 611.10,78.13 611.27,78.14 611.44,78.15 611.62,78.16 611.79,78.17 L611.79,78.30 Z" fill="#d3d3d3"/>
<line x1="605.50" x2="605.50" y1="50.00" y2="77.30" stroke="#808080" stroke-width="0.65" stroke-dasharray="2,2.5"/>
<rect x="604.20" y="76.40" width="2.6" height="2.6" fill="#0000ff" stroke="#000050" stroke-width="0.45"/>
<text transform="translate(538.86,84.30) scale(0.1)" text-anchor="middle" font-size="50" fill="#000" stroke="#000" stroke-width="2.0">-7</text>
<text transform="translate(548.38,84.30) scale(0.1)" text-anchor="middle" font-size="50" fill="#000" stroke="#000" stroke-width="2.0">-6</text>
<text transform="translate(557.90,84.30) scale(0.1)" text-anchor="middle" font-size="50" fill="#000" stroke="#000" stroke-width="2.0">-5</text>
<text transform="translate(567.42,84.30) scale(0.1)" text-anchor="middle" font-size="50" fill="#000" stroke="#000" stroke-width="2.0">-4</text>
<text transform="translate(576.94,84.30) scale(0.1)" text-anchor="middle" font-size="50" fill="#000" stroke="#000" stroke-width="2.0">-3</text>
<text transform="translate(586.46,84.30) scale(0.1)" text-anchor="middle" font-size="50" fill="#000" stroke="#000" stroke-width="2.0">-2</text>
<text transform="translate(595.98,84.30) scale(0.1)" text-anchor="middle" font-size="50" fill="#000" stroke="#000" stroke-width="2.0">-1</text>
<text transform="translate(605.50,84.30) scale(0.1)" text-anchor="middle" font-size="50" fill="#000" stroke="#000" stroke-width="2.0">0</text>
<text transform="translate(615.02,84.30) scale(0.1)" text-anchor="middle" font-size="50" fill="#000" stroke="#000" stroke-width="2.0">1</text>
<path d="M81.4,62.7 V45 H280.2 V62.7" fill="none" stroke="#000" stroke-width="1.8" stroke-linejoin="miter"/>
<path d="M82.3,104 V86 H180.0 V104" fill="none" stroke="#000" stroke-width="1.8" stroke-linejoin="miter"/>
<path d="M182.3,104 V86 H280.0 V104" fill="none" stroke="#000" stroke-width="1.8" stroke-linejoin="miter"/>
<path d="M425,62.7 V45 H624.6 V62.7" fill="none" stroke="#000" stroke-width="1.8" stroke-linejoin="miter"/>
<path d="M426.2,104 V86 H524.0 V104" fill="none" stroke="#000" stroke-width="1.8" stroke-linejoin="miter"/>
<path d="M526.1,104 V86 H624.4 V104" fill="none" stroke="#000" stroke-width="1.8" stroke-linejoin="miter"/>
</svg></body></html>
